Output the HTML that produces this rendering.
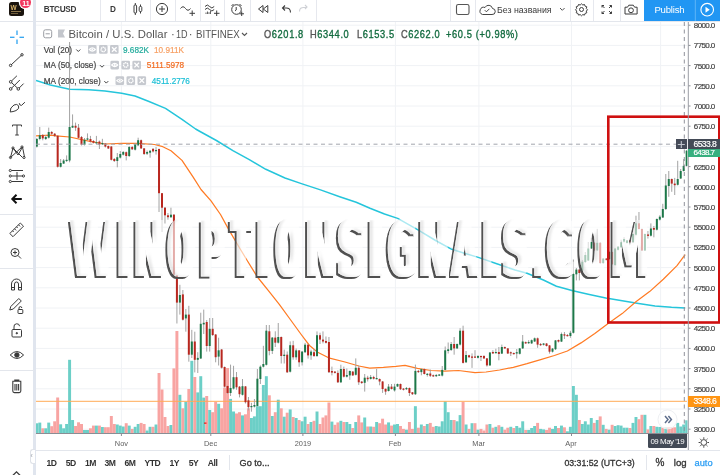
<!DOCTYPE html>
<html><head><meta charset="utf-8">
<style>
*{margin:0;padding:0;box-sizing:border-box}
html,body{width:720px;height:475px;overflow:hidden;background:#fff}
body{position:relative;font-family:"Liberation Sans",Arial,sans-serif;color:#4c4c4c}
.a{position:absolute;white-space:nowrap}
.vs{position:absolute;top:0;width:1px;height:21px;background:#e6e8ee}
.hs{position:absolute;height:1px;background:#e3e6ec}
.tb{font-size:8px;font-weight:bold;color:#3a3a3a}
.lg{font-size:11.3px;color:#555;top:28px;line-height:12px;letter-spacing:-0.35px}
.lv{letter-spacing:0.75px;transform:scaleX(0.82);transform-origin:0 0;-webkit-text-stroke:0.35px currentColor}
.ind{font-size:8.2px;color:#444;line-height:10px;-webkit-text-stroke:0.2px currentColor}
.btn3{position:absolute;width:8.5px;height:8.5px;border:1px solid #c4c7cd;border-radius:1.5px;background:#d6d8dd}
.pl{position:absolute;left:693.8px;font-size:8px;letter-spacing:-0.6px;color:#444;line-height:9px;-webkit-text-stroke:0.2px currentColor}
.tl{position:absolute;top:439.3px;font-size:7.4px;color:#606060;line-height:9px;transform:translateX(-50%)}
.bb{position:absolute;top:458px;font-size:8.6px;color:#333;line-height:10px;font-weight:bold;letter-spacing:-0.5px;transform:translateX(-50%)}
svg{position:absolute;left:0;top:0}
</style></head><body>

<!-- chart svg -->
<svg width="720" height="475" viewBox="0 0 720 475">
<defs>
<clipPath id="cc"><rect x="36" y="22" width="651.5" height="411.5"/></clipPath>
<filter id="wm0" x="-10%" y="-20%" width="120%" height="140%" color-interpolation-filters="sRGB">
  <feMorphology in="SourceAlpha" operator="dilate" radius="1.0 0.3" result="fat"/>
  <feOffset in="fat" dx="-2" dy="1.6" result="off"/>
  <feComposite in="off" in2="fat" operator="out" result="edge"/>
  <feGaussianBlur in="edge" stdDeviation="0.55" result="edgeb"/>
  <feFlood flood-color="#505050"/>
  <feComposite in2="edgeb" operator="in" result="sh"/>
  <feFlood flood-color="#ffffff" flood-opacity="0.62"/>
  <feComposite in2="fat" operator="in" result="fill"/>
  <feOffset in="fat" dx="3" dy="-1" result="off2"/>
  <feComposite in="fat" in2="off2" operator="out" result="inner"/>
  <feGaussianBlur in="inner" stdDeviation="1.2" result="innerb"/>
  <feComposite in="innerb" in2="fat" operator="in" result="innerc"/>
  <feFlood flood-color="#888" flood-opacity="0.22"/>
  <feComposite in2="innerc" operator="in" result="insh"/>
  <feMerge><feMergeNode in="sh"/><feMergeNode in="fill"/><feMergeNode in="insh"/></feMerge>
</filter>
<filter id="wm1" x="-10%" y="-20%" width="120%" height="140%" color-interpolation-filters="sRGB">
  <feMorphology in="SourceAlpha" operator="dilate" radius="1.2 0.3" result="fat"/>
  <feOffset in="fat" dx="-2" dy="1.6" result="off"/>
  <feComposite in="off" in2="fat" operator="out" result="edge"/>
  <feGaussianBlur in="edge" stdDeviation="0.55" result="edgeb"/>
  <feFlood flood-color="#505050"/>
  <feComposite in2="edgeb" operator="in" result="sh"/>
  <feFlood flood-color="#ffffff" flood-opacity="0.62"/>
  <feComposite in2="fat" operator="in" result="fill"/>
  <feOffset in="fat" dx="3" dy="-1" result="off2"/>
  <feComposite in="fat" in2="off2" operator="out" result="inner"/>
  <feGaussianBlur in="inner" stdDeviation="1.2" result="innerb"/>
  <feComposite in="innerb" in2="fat" operator="in" result="innerc"/>
  <feFlood flood-color="#888" flood-opacity="0.22"/>
  <feComposite in2="innerc" operator="in" result="insh"/>
  <feMerge><feMergeNode in="sh"/><feMergeNode in="fill"/><feMergeNode in="insh"/></feMerge>
</filter>
<filter id="wm2" x="-10%" y="-20%" width="120%" height="140%" color-interpolation-filters="sRGB">
  <feMorphology in="SourceAlpha" operator="dilate" radius="1.3 0.3" result="fat"/>
  <feOffset in="fat" dx="-2" dy="1.6" result="off"/>
  <feComposite in="off" in2="fat" operator="out" result="edge"/>
  <feGaussianBlur in="edge" stdDeviation="0.55" result="edgeb"/>
  <feFlood flood-color="#505050"/>
  <feComposite in2="edgeb" operator="in" result="sh"/>
  <feFlood flood-color="#ffffff" flood-opacity="0.62"/>
  <feComposite in2="fat" operator="in" result="fill"/>
  <feOffset in="fat" dx="3" dy="-1" result="off2"/>
  <feComposite in="fat" in2="off2" operator="out" result="inner"/>
  <feGaussianBlur in="inner" stdDeviation="1.2" result="innerb"/>
  <feComposite in="innerb" in2="fat" operator="in" result="innerc"/>
  <feFlood flood-color="#888" flood-opacity="0.22"/>
  <feComposite in2="innerc" operator="in" result="insh"/>
  <feMerge><feMergeNode in="sh"/><feMergeNode in="fill"/><feMergeNode in="insh"/></feMerge>
</filter>
<filter id="wm3" x="-10%" y="-20%" width="120%" height="140%" color-interpolation-filters="sRGB">
  <feMorphology in="SourceAlpha" operator="dilate" radius="1.5 0.3" result="fat"/>
  <feOffset in="fat" dx="-2" dy="1.6" result="off"/>
  <feComposite in="off" in2="fat" operator="out" result="edge"/>
  <feGaussianBlur in="edge" stdDeviation="0.55" result="edgeb"/>
  <feFlood flood-color="#505050"/>
  <feComposite in2="edgeb" operator="in" result="sh"/>
  <feFlood flood-color="#ffffff" flood-opacity="0.62"/>
  <feComposite in2="fat" operator="in" result="fill"/>
  <feOffset in="fat" dx="3" dy="-1" result="off2"/>
  <feComposite in="fat" in2="off2" operator="out" result="inner"/>
  <feGaussianBlur in="inner" stdDeviation="1.2" result="innerb"/>
  <feComposite in="innerb" in2="fat" operator="in" result="innerc"/>
  <feFlood flood-color="#888" flood-opacity="0.22"/>
  <feComposite in2="innerc" operator="in" result="insh"/>
  <feMerge><feMergeNode in="sh"/><feMergeNode in="fill"/><feMergeNode in="insh"/></feMerge>
</filter>
<filter id="wm4" x="-10%" y="-20%" width="120%" height="140%" color-interpolation-filters="sRGB">
  <feMorphology in="SourceAlpha" operator="dilate" radius="1.6 0.3" result="fat"/>
  <feOffset in="fat" dx="-2" dy="1.6" result="off"/>
  <feComposite in="off" in2="fat" operator="out" result="edge"/>
  <feGaussianBlur in="edge" stdDeviation="0.55" result="edgeb"/>
  <feFlood flood-color="#505050"/>
  <feComposite in2="edgeb" operator="in" result="sh"/>
  <feFlood flood-color="#ffffff" flood-opacity="0.62"/>
  <feComposite in2="fat" operator="in" result="fill"/>
  <feOffset in="fat" dx="3" dy="-1" result="off2"/>
  <feComposite in="fat" in2="off2" operator="out" result="inner"/>
  <feGaussianBlur in="inner" stdDeviation="1.2" result="innerb"/>
  <feComposite in="innerb" in2="fat" operator="in" result="innerc"/>
  <feFlood flood-color="#888" flood-opacity="0.22"/>
  <feComposite in2="innerc" operator="in" result="insh"/>
  <feMerge><feMergeNode in="sh"/><feMergeNode in="fill"/><feMergeNode in="insh"/></feMerge>
</filter>
<filter id="wm5" x="-10%" y="-20%" width="120%" height="140%" color-interpolation-filters="sRGB">
  <feMorphology in="SourceAlpha" operator="dilate" radius="1.8 0.3" result="fat"/>
  <feOffset in="fat" dx="-2" dy="1.6" result="off"/>
  <feComposite in="off" in2="fat" operator="out" result="edge"/>
  <feGaussianBlur in="edge" stdDeviation="0.55" result="edgeb"/>
  <feFlood flood-color="#505050"/>
  <feComposite in2="edgeb" operator="in" result="sh"/>
  <feFlood flood-color="#ffffff" flood-opacity="0.62"/>
  <feComposite in2="fat" operator="in" result="fill"/>
  <feOffset in="fat" dx="3" dy="-1" result="off2"/>
  <feComposite in="fat" in2="off2" operator="out" result="inner"/>
  <feGaussianBlur in="inner" stdDeviation="1.2" result="innerb"/>
  <feComposite in="innerb" in2="fat" operator="in" result="innerc"/>
  <feFlood flood-color="#888" flood-opacity="0.22"/>
  <feComposite in2="innerc" operator="in" result="insh"/>
  <feMerge><feMergeNode in="sh"/><feMergeNode in="fill"/><feMergeNode in="insh"/></feMerge>
</filter>
<filter id="wm6" x="-10%" y="-20%" width="120%" height="140%" color-interpolation-filters="sRGB">
  <feMorphology in="SourceAlpha" operator="dilate" radius="2.0 0.3" result="fat"/>
  <feOffset in="fat" dx="-2" dy="1.6" result="off"/>
  <feComposite in="off" in2="fat" operator="out" result="edge"/>
  <feGaussianBlur in="edge" stdDeviation="0.55" result="edgeb"/>
  <feFlood flood-color="#505050"/>
  <feComposite in2="edgeb" operator="in" result="sh"/>
  <feFlood flood-color="#ffffff" flood-opacity="0.62"/>
  <feComposite in2="fat" operator="in" result="fill"/>
  <feOffset in="fat" dx="3" dy="-1" result="off2"/>
  <feComposite in="fat" in2="off2" operator="out" result="inner"/>
  <feGaussianBlur in="inner" stdDeviation="1.2" result="innerb"/>
  <feComposite in="innerb" in2="fat" operator="in" result="innerc"/>
  <feFlood flood-color="#888" flood-opacity="0.22"/>
  <feComposite in2="innerc" operator="in" result="insh"/>
  <feMerge><feMergeNode in="sh"/><feMergeNode in="fill"/><feMergeNode in="insh"/></feMerge>
</filter>
<filter id="wm7" x="-10%" y="-20%" width="120%" height="140%" color-interpolation-filters="sRGB">
  <feMorphology in="SourceAlpha" operator="dilate" radius="2.2 0.3" result="fat"/>
  <feOffset in="fat" dx="-2" dy="1.6" result="off"/>
  <feComposite in="off" in2="fat" operator="out" result="edge"/>
  <feGaussianBlur in="edge" stdDeviation="0.55" result="edgeb"/>
  <feFlood flood-color="#505050"/>
  <feComposite in2="edgeb" operator="in" result="sh"/>
  <feFlood flood-color="#ffffff" flood-opacity="0.62"/>
  <feComposite in2="fat" operator="in" result="fill"/>
  <feOffset in="fat" dx="3" dy="-1" result="off2"/>
  <feComposite in="fat" in2="off2" operator="out" result="inner"/>
  <feGaussianBlur in="inner" stdDeviation="1.2" result="innerb"/>
  <feComposite in="innerb" in2="fat" operator="in" result="innerc"/>
  <feFlood flood-color="#888" flood-opacity="0.22"/>
  <feComposite in2="innerc" operator="in" result="insh"/>
  <feMerge><feMergeNode in="sh"/><feMergeNode in="fill"/><feMergeNode in="insh"/></feMerge>
</filter>
<filter id="wm8" x="-10%" y="-20%" width="120%" height="140%" color-interpolation-filters="sRGB">
  <feMorphology in="SourceAlpha" operator="dilate" radius="2.4 0.3" result="fat"/>
  <feOffset in="fat" dx="-2" dy="1.6" result="off"/>
  <feComposite in="off" in2="fat" operator="out" result="edge"/>
  <feGaussianBlur in="edge" stdDeviation="0.55" result="edgeb"/>
  <feFlood flood-color="#505050"/>
  <feComposite in2="edgeb" operator="in" result="sh"/>
  <feFlood flood-color="#ffffff" flood-opacity="0.62"/>
  <feComposite in2="fat" operator="in" result="fill"/>
  <feOffset in="fat" dx="3" dy="-1" result="off2"/>
  <feComposite in="fat" in2="off2" operator="out" result="inner"/>
  <feGaussianBlur in="inner" stdDeviation="1.2" result="innerb"/>
  <feComposite in="innerb" in2="fat" operator="in" result="innerc"/>
  <feFlood flood-color="#888" flood-opacity="0.22"/>
  <feComposite in2="innerc" operator="in" result="insh"/>
  <feMerge><feMergeNode in="sh"/><feMergeNode in="fill"/><feMergeNode in="insh"/></feMerge>
</filter>
<filter id="wm9" x="-10%" y="-20%" width="120%" height="140%" color-interpolation-filters="sRGB">
  <feMorphology in="SourceAlpha" operator="dilate" radius="2.5 0.3" result="fat"/>
  <feOffset in="fat" dx="-2" dy="1.6" result="off"/>
  <feComposite in="off" in2="fat" operator="out" result="edge"/>
  <feGaussianBlur in="edge" stdDeviation="0.55" result="edgeb"/>
  <feFlood flood-color="#505050"/>
  <feComposite in2="edgeb" operator="in" result="sh"/>
  <feFlood flood-color="#ffffff" flood-opacity="0.62"/>
  <feComposite in2="fat" operator="in" result="fill"/>
  <feOffset in="fat" dx="3" dy="-1" result="off2"/>
  <feComposite in="fat" in2="off2" operator="out" result="inner"/>
  <feGaussianBlur in="inner" stdDeviation="1.2" result="innerb"/>
  <feComposite in="innerb" in2="fat" operator="in" result="innerc"/>
  <feFlood flood-color="#888" flood-opacity="0.22"/>
  <feComposite in2="innerc" operator="in" result="insh"/>
  <feMerge><feMergeNode in="sh"/><feMergeNode in="fill"/><feMergeNode in="insh"/></feMerge>
</filter>
<filter id="wm10" x="-10%" y="-20%" width="120%" height="140%" color-interpolation-filters="sRGB">
  <feMorphology in="SourceAlpha" operator="dilate" radius="2.6 0.3" result="fat"/>
  <feOffset in="fat" dx="-2" dy="1.6" result="off"/>
  <feComposite in="off" in2="fat" operator="out" result="edge"/>
  <feGaussianBlur in="edge" stdDeviation="0.55" result="edgeb"/>
  <feFlood flood-color="#505050"/>
  <feComposite in2="edgeb" operator="in" result="sh"/>
  <feFlood flood-color="#ffffff" flood-opacity="0.62"/>
  <feComposite in2="fat" operator="in" result="fill"/>
  <feOffset in="fat" dx="3" dy="-1" result="off2"/>
  <feComposite in="fat" in2="off2" operator="out" result="inner"/>
  <feGaussianBlur in="inner" stdDeviation="1.2" result="innerb"/>
  <feComposite in="innerb" in2="fat" operator="in" result="innerc"/>
  <feFlood flood-color="#888" flood-opacity="0.22"/>
  <feComposite in2="innerc" operator="in" result="insh"/>
  <feMerge><feMergeNode in="sh"/><feMergeNode in="fill"/><feMergeNode in="insh"/></feMerge>
</filter>
</defs>
<g clip-path="url(#cc)">
<line x1="36" y1="25.2" x2="687" y2="25.2" stroke="#f0f2f5" stroke-width="1"/>
<line x1="36" y1="45.4" x2="687" y2="45.4" stroke="#f0f2f5" stroke-width="1"/>
<line x1="36" y1="65.6" x2="687" y2="65.6" stroke="#f0f2f5" stroke-width="1"/>
<line x1="36" y1="85.8" x2="687" y2="85.8" stroke="#f0f2f5" stroke-width="1"/>
<line x1="36" y1="106.0" x2="687" y2="106.0" stroke="#f0f2f5" stroke-width="1"/>
<line x1="36" y1="126.2" x2="687" y2="126.2" stroke="#f0f2f5" stroke-width="1"/>
<line x1="36" y1="146.4" x2="687" y2="146.4" stroke="#f0f2f5" stroke-width="1"/>
<line x1="36" y1="166.6" x2="687" y2="166.6" stroke="#f0f2f5" stroke-width="1"/>
<line x1="36" y1="186.8" x2="687" y2="186.8" stroke="#f0f2f5" stroke-width="1"/>
<line x1="36" y1="207.0" x2="687" y2="207.0" stroke="#f0f2f5" stroke-width="1"/>
<line x1="36" y1="227.2" x2="687" y2="227.2" stroke="#f0f2f5" stroke-width="1"/>
<line x1="36" y1="247.4" x2="687" y2="247.4" stroke="#f0f2f5" stroke-width="1"/>
<line x1="36" y1="267.6" x2="687" y2="267.6" stroke="#f0f2f5" stroke-width="1"/>
<line x1="36" y1="287.8" x2="687" y2="287.8" stroke="#f0f2f5" stroke-width="1"/>
<line x1="36" y1="308.0" x2="687" y2="308.0" stroke="#f0f2f5" stroke-width="1"/>
<line x1="36" y1="328.2" x2="687" y2="328.2" stroke="#f0f2f5" stroke-width="1"/>
<line x1="36" y1="348.4" x2="687" y2="348.4" stroke="#f0f2f5" stroke-width="1"/>
<line x1="36" y1="368.6" x2="687" y2="368.6" stroke="#f0f2f5" stroke-width="1"/>
<line x1="36" y1="388.8" x2="687" y2="388.8" stroke="#f0f2f5" stroke-width="1"/>
<line x1="36" y1="409.0" x2="687" y2="409.0" stroke="#f0f2f5" stroke-width="1"/>
<line x1="36" y1="429.2" x2="687" y2="429.2" stroke="#f0f2f5" stroke-width="1"/>
<line x1="121.4" y1="22" x2="121.4" y2="433" stroke="#f0f2f5" stroke-width="1"/>
<line x1="210.8" y1="22" x2="210.8" y2="433" stroke="#f0f2f5" stroke-width="1"/>
<line x1="302.9" y1="22" x2="302.9" y2="433" stroke="#f0f2f5" stroke-width="1"/>
<line x1="395.4" y1="22" x2="395.4" y2="433" stroke="#f0f2f5" stroke-width="1"/>
<line x1="478.9" y1="22" x2="478.9" y2="433" stroke="#f0f2f5" stroke-width="1"/>
<line x1="571.5" y1="22" x2="571.5" y2="433" stroke="#f0f2f5" stroke-width="1"/>
<line x1="660.6" y1="22" x2="660.6" y2="433" stroke="#f0f2f5" stroke-width="1"/>
<rect x="35.32" y="423.3" width="2.95" height="9.7" fill="#6ccfc7"/>
<rect x="38.31" y="422.6" width="2.95" height="10.4" fill="#6ccfc7"/>
<rect x="41.29" y="428.3" width="2.95" height="4.7" fill="#f8a4a2"/>
<rect x="44.27" y="428.3" width="2.95" height="4.7" fill="#6ccfc7"/>
<rect x="47.25" y="422.6" width="2.95" height="10.4" fill="#6ccfc7"/>
<rect x="50.23" y="426.2" width="2.95" height="6.8" fill="#f8a4a2"/>
<rect x="53.21" y="421.3" width="2.95" height="11.7" fill="#f8a4a2"/>
<rect x="56.19" y="397.5" width="2.95" height="35.5" fill="#f8a4a2"/>
<rect x="59.17" y="424.3" width="2.95" height="8.7" fill="#6ccfc7"/>
<rect x="62.15" y="428.3" width="2.95" height="4.7" fill="#6ccfc7"/>
<rect x="65.14" y="424.0" width="2.95" height="9.0" fill="#6ccfc7"/>
<rect x="68.12" y="359.8" width="2.95" height="73.2" fill="#6ccfc7"/>
<rect x="71.10" y="420.0" width="2.95" height="13.0" fill="#6ccfc7"/>
<rect x="74.08" y="426.0" width="2.95" height="7.0" fill="#f8a4a2"/>
<rect x="77.06" y="422.3" width="2.95" height="10.7" fill="#f8a4a2"/>
<rect x="80.04" y="424.0" width="2.95" height="9.0" fill="#f8a4a2"/>
<rect x="83.02" y="430.0" width="2.95" height="3.0" fill="#6ccfc7"/>
<rect x="86.00" y="430.0" width="2.95" height="3.0" fill="#6ccfc7"/>
<rect x="88.98" y="428.3" width="2.95" height="4.7" fill="#f8a4a2"/>
<rect x="91.96" y="425.6" width="2.95" height="7.4" fill="#f8a4a2"/>
<rect x="94.94" y="425.6" width="2.95" height="7.4" fill="#6ccfc7"/>
<rect x="97.93" y="425.6" width="2.95" height="7.4" fill="#f8a4a2"/>
<rect x="100.91" y="427.0" width="2.95" height="6.0" fill="#6ccfc7"/>
<rect x="103.89" y="427.2" width="2.95" height="5.8" fill="#f8a4a2"/>
<rect x="106.87" y="427.2" width="2.95" height="5.8" fill="#f8a4a2"/>
<rect x="109.85" y="416.0" width="2.95" height="17.0" fill="#f8a4a2"/>
<rect x="112.83" y="424.0" width="2.95" height="9.0" fill="#f8a4a2"/>
<rect x="115.81" y="424.5" width="2.95" height="8.5" fill="#6ccfc7"/>
<rect x="118.79" y="425.6" width="2.95" height="7.4" fill="#6ccfc7"/>
<rect x="121.77" y="426.5" width="2.95" height="6.5" fill="#6ccfc7"/>
<rect x="124.75" y="423.2" width="2.95" height="9.8" fill="#f8a4a2"/>
<rect x="127.74" y="425.6" width="2.95" height="7.4" fill="#6ccfc7"/>
<rect x="130.72" y="428.9" width="2.95" height="4.1" fill="#f8a4a2"/>
<rect x="133.70" y="426.8" width="2.95" height="6.2" fill="#6ccfc7"/>
<rect x="136.68" y="424.0" width="2.95" height="9.0" fill="#6ccfc7"/>
<rect x="139.66" y="422.9" width="2.95" height="10.1" fill="#f8a4a2"/>
<rect x="142.64" y="424.0" width="2.95" height="9.0" fill="#f8a4a2"/>
<rect x="145.62" y="430.5" width="2.95" height="2.5" fill="#6ccfc7"/>
<rect x="148.60" y="426.8" width="2.95" height="6.2" fill="#6ccfc7"/>
<rect x="151.58" y="426.8" width="2.95" height="6.2" fill="#f8a4a2"/>
<rect x="154.56" y="424.5" width="2.95" height="8.5" fill="#6ccfc7"/>
<rect x="157.55" y="373.0" width="2.95" height="60.0" fill="#f8a4a2"/>
<rect x="160.53" y="389.5" width="2.95" height="43.5" fill="#f8a4a2"/>
<rect x="163.51" y="417.0" width="2.95" height="16.0" fill="#f8a4a2"/>
<rect x="166.49" y="426.0" width="2.95" height="7.0" fill="#f8a4a2"/>
<rect x="169.47" y="425.0" width="2.95" height="8.0" fill="#6ccfc7"/>
<rect x="172.45" y="368.4" width="2.95" height="64.6" fill="#f8a4a2"/>
<rect x="175.43" y="331.0" width="2.95" height="102.0" fill="#f8a4a2"/>
<rect x="178.41" y="394.8" width="2.95" height="38.2" fill="#6ccfc7"/>
<rect x="181.39" y="408.3" width="2.95" height="24.7" fill="#f8a4a2"/>
<rect x="184.37" y="401.8" width="2.95" height="31.2" fill="#6ccfc7"/>
<rect x="187.36" y="389.0" width="2.95" height="44.0" fill="#f8a4a2"/>
<rect x="190.34" y="360.8" width="2.95" height="72.2" fill="#6ccfc7"/>
<rect x="193.32" y="377.0" width="2.95" height="56.0" fill="#f8a4a2"/>
<rect x="196.30" y="392.4" width="2.95" height="40.6" fill="#6ccfc7"/>
<rect x="199.28" y="376.2" width="2.95" height="56.8" fill="#6ccfc7"/>
<rect x="202.26" y="397.6" width="2.95" height="35.4" fill="#6ccfc7"/>
<rect x="205.24" y="396.0" width="2.95" height="37.0" fill="#f8a4a2"/>
<rect x="208.22" y="410.0" width="2.95" height="23.0" fill="#6ccfc7"/>
<rect x="211.20" y="412.2" width="2.95" height="20.8" fill="#f8a4a2"/>
<rect x="214.18" y="401.8" width="2.95" height="31.2" fill="#f8a4a2"/>
<rect x="217.17" y="403.8" width="2.95" height="29.2" fill="#6ccfc7"/>
<rect x="220.15" y="408.3" width="2.95" height="24.7" fill="#f8a4a2"/>
<rect x="223.13" y="387.6" width="2.95" height="45.4" fill="#f8a4a2"/>
<rect x="226.11" y="368.0" width="2.95" height="65.0" fill="#f8a4a2"/>
<rect x="229.09" y="398.9" width="2.95" height="34.1" fill="#6ccfc7"/>
<rect x="232.07" y="411.5" width="2.95" height="21.5" fill="#6ccfc7"/>
<rect x="235.05" y="413.5" width="2.95" height="19.5" fill="#f8a4a2"/>
<rect x="238.03" y="412.2" width="2.95" height="20.8" fill="#f8a4a2"/>
<rect x="241.01" y="415.4" width="2.95" height="17.6" fill="#6ccfc7"/>
<rect x="243.99" y="414.3" width="2.95" height="18.7" fill="#f8a4a2"/>
<rect x="246.98" y="408.3" width="2.95" height="24.7" fill="#f8a4a2"/>
<rect x="249.96" y="418.0" width="2.95" height="15.0" fill="#6ccfc7"/>
<rect x="252.94" y="416.4" width="2.95" height="16.6" fill="#6ccfc7"/>
<rect x="255.92" y="406.2" width="2.95" height="26.8" fill="#6ccfc7"/>
<rect x="258.90" y="406.2" width="2.95" height="26.8" fill="#6ccfc7"/>
<rect x="261.88" y="385.0" width="2.95" height="48.0" fill="#6ccfc7"/>
<rect x="264.86" y="376.2" width="2.95" height="56.8" fill="#6ccfc7"/>
<rect x="267.84" y="395.3" width="2.95" height="37.7" fill="#f8a4a2"/>
<rect x="270.82" y="416.0" width="2.95" height="17.0" fill="#6ccfc7"/>
<rect x="273.80" y="412.2" width="2.95" height="20.8" fill="#f8a4a2"/>
<rect x="276.79" y="399.7" width="2.95" height="33.3" fill="#6ccfc7"/>
<rect x="279.77" y="408.3" width="2.95" height="24.7" fill="#f8a4a2"/>
<rect x="282.75" y="416.7" width="2.95" height="16.3" fill="#6ccfc7"/>
<rect x="285.73" y="412.7" width="2.95" height="20.3" fill="#f8a4a2"/>
<rect x="288.71" y="409.4" width="2.95" height="23.6" fill="#6ccfc7"/>
<rect x="291.69" y="417.0" width="2.95" height="16.0" fill="#f8a4a2"/>
<rect x="294.67" y="418.0" width="2.95" height="15.0" fill="#6ccfc7"/>
<rect x="297.65" y="420.0" width="2.95" height="13.0" fill="#f8a4a2"/>
<rect x="300.63" y="421.3" width="2.95" height="11.7" fill="#6ccfc7"/>
<rect x="303.61" y="416.7" width="2.95" height="16.3" fill="#6ccfc7"/>
<rect x="306.60" y="424.0" width="2.95" height="9.0" fill="#f8a4a2"/>
<rect x="309.58" y="422.0" width="2.95" height="11.0" fill="#6ccfc7"/>
<rect x="312.56" y="420.8" width="2.95" height="12.2" fill="#f8a4a2"/>
<rect x="315.54" y="411.5" width="2.95" height="21.5" fill="#6ccfc7"/>
<rect x="318.52" y="424.0" width="2.95" height="9.0" fill="#f8a4a2"/>
<rect x="321.50" y="417.5" width="2.95" height="15.5" fill="#f8a4a2"/>
<rect x="324.48" y="415.4" width="2.95" height="17.6" fill="#f8a4a2"/>
<rect x="327.46" y="402.5" width="2.95" height="30.5" fill="#f8a4a2"/>
<rect x="330.44" y="421.6" width="2.95" height="11.4" fill="#6ccfc7"/>
<rect x="333.42" y="424.8" width="2.95" height="8.2" fill="#f8a4a2"/>
<rect x="336.41" y="422.4" width="2.95" height="10.6" fill="#f8a4a2"/>
<rect x="339.39" y="420.8" width="2.95" height="12.2" fill="#6ccfc7"/>
<rect x="342.37" y="422.0" width="2.95" height="11.0" fill="#f8a4a2"/>
<rect x="345.35" y="422.0" width="2.95" height="11.0" fill="#6ccfc7"/>
<rect x="348.33" y="424.0" width="2.95" height="9.0" fill="#6ccfc7"/>
<rect x="351.31" y="428.0" width="2.95" height="5.0" fill="#f8a4a2"/>
<rect x="354.29" y="422.0" width="2.95" height="11.0" fill="#6ccfc7"/>
<rect x="357.27" y="415.4" width="2.95" height="17.6" fill="#f8a4a2"/>
<rect x="360.25" y="422.4" width="2.95" height="10.6" fill="#f8a4a2"/>
<rect x="363.23" y="417.5" width="2.95" height="15.5" fill="#6ccfc7"/>
<rect x="366.22" y="426.5" width="2.95" height="6.5" fill="#f8a4a2"/>
<rect x="369.20" y="426.5" width="2.95" height="6.5" fill="#6ccfc7"/>
<rect x="372.18" y="426.8" width="2.95" height="6.2" fill="#f8a4a2"/>
<rect x="375.16" y="422.0" width="2.95" height="11.0" fill="#6ccfc7"/>
<rect x="378.14" y="423.2" width="2.95" height="9.8" fill="#f8a4a2"/>
<rect x="381.12" y="418.7" width="2.95" height="14.3" fill="#f8a4a2"/>
<rect x="384.10" y="424.5" width="2.95" height="8.5" fill="#f8a4a2"/>
<rect x="387.08" y="422.4" width="2.95" height="10.6" fill="#6ccfc7"/>
<rect x="390.06" y="425.6" width="2.95" height="7.4" fill="#f8a4a2"/>
<rect x="393.04" y="424.5" width="2.95" height="8.5" fill="#6ccfc7"/>
<rect x="396.03" y="424.0" width="2.95" height="9.0" fill="#6ccfc7"/>
<rect x="399.01" y="426.0" width="2.95" height="7.0" fill="#f8a4a2"/>
<rect x="401.99" y="428.9" width="2.95" height="4.1" fill="#f8a4a2"/>
<rect x="404.97" y="429.7" width="2.95" height="3.3" fill="#6ccfc7"/>
<rect x="407.95" y="422.0" width="2.95" height="11.0" fill="#f8a4a2"/>
<rect x="410.93" y="428.9" width="2.95" height="4.1" fill="#f8a4a2"/>
<rect x="413.91" y="406.2" width="2.95" height="26.8" fill="#6ccfc7"/>
<rect x="416.89" y="427.7" width="2.95" height="5.3" fill="#f8a4a2"/>
<rect x="419.87" y="424.5" width="2.95" height="8.5" fill="#6ccfc7"/>
<rect x="422.85" y="426.0" width="2.95" height="7.0" fill="#f8a4a2"/>
<rect x="425.84" y="424.0" width="2.95" height="9.0" fill="#6ccfc7"/>
<rect x="428.82" y="422.9" width="2.95" height="10.1" fill="#f8a4a2"/>
<rect x="431.80" y="426.8" width="2.95" height="6.2" fill="#f8a4a2"/>
<rect x="434.78" y="426.0" width="2.95" height="7.0" fill="#6ccfc7"/>
<rect x="437.76" y="426.5" width="2.95" height="6.5" fill="#6ccfc7"/>
<rect x="440.74" y="421.3" width="2.95" height="11.7" fill="#6ccfc7"/>
<rect x="443.72" y="401.3" width="2.95" height="31.7" fill="#6ccfc7"/>
<rect x="446.70" y="412.2" width="2.95" height="20.8" fill="#6ccfc7"/>
<rect x="449.68" y="420.0" width="2.95" height="13.0" fill="#6ccfc7"/>
<rect x="452.66" y="420.0" width="2.95" height="13.0" fill="#f8a4a2"/>
<rect x="455.65" y="421.3" width="2.95" height="11.7" fill="#6ccfc7"/>
<rect x="458.63" y="415.1" width="2.95" height="17.9" fill="#6ccfc7"/>
<rect x="461.61" y="401.8" width="2.95" height="31.2" fill="#f8a4a2"/>
<rect x="464.59" y="424.5" width="2.95" height="8.5" fill="#6ccfc7"/>
<rect x="467.57" y="428.9" width="2.95" height="4.1" fill="#f8a4a2"/>
<rect x="470.55" y="423.2" width="2.95" height="9.8" fill="#6ccfc7"/>
<rect x="473.53" y="423.2" width="2.95" height="9.8" fill="#f8a4a2"/>
<rect x="476.51" y="429.7" width="2.95" height="3.3" fill="#6ccfc7"/>
<rect x="479.49" y="428.9" width="2.95" height="4.1" fill="#f8a4a2"/>
<rect x="482.47" y="430.5" width="2.95" height="2.5" fill="#f8a4a2"/>
<rect x="485.46" y="424.5" width="2.95" height="8.5" fill="#f8a4a2"/>
<rect x="488.44" y="424.0" width="2.95" height="9.0" fill="#6ccfc7"/>
<rect x="491.42" y="427.7" width="2.95" height="5.3" fill="#f8a4a2"/>
<rect x="494.40" y="426.8" width="2.95" height="6.2" fill="#6ccfc7"/>
<rect x="497.38" y="425.2" width="2.95" height="7.8" fill="#f8a4a2"/>
<rect x="500.36" y="426.8" width="2.95" height="6.2" fill="#6ccfc7"/>
<rect x="503.34" y="429.7" width="2.95" height="3.3" fill="#f8a4a2"/>
<rect x="506.32" y="427.7" width="2.95" height="5.3" fill="#f8a4a2"/>
<rect x="509.30" y="426.8" width="2.95" height="6.2" fill="#6ccfc7"/>
<rect x="512.28" y="428.0" width="2.95" height="5.0" fill="#f8a4a2"/>
<rect x="515.27" y="426.0" width="2.95" height="7.0" fill="#6ccfc7"/>
<rect x="518.25" y="427.7" width="2.95" height="5.3" fill="#6ccfc7"/>
<rect x="521.23" y="421.3" width="2.95" height="11.7" fill="#6ccfc7"/>
<rect x="524.21" y="430.0" width="2.95" height="3.0" fill="#f8a4a2"/>
<rect x="527.19" y="430.0" width="2.95" height="3.0" fill="#6ccfc7"/>
<rect x="530.17" y="428.0" width="2.95" height="5.0" fill="#6ccfc7"/>
<rect x="533.15" y="426.0" width="2.95" height="7.0" fill="#6ccfc7"/>
<rect x="536.13" y="422.9" width="2.95" height="10.1" fill="#f8a4a2"/>
<rect x="539.11" y="428.9" width="2.95" height="4.1" fill="#6ccfc7"/>
<rect x="542.09" y="429.4" width="2.95" height="3.6" fill="#6ccfc7"/>
<rect x="545.08" y="430.0" width="2.95" height="3.0" fill="#f8a4a2"/>
<rect x="548.06" y="427.7" width="2.95" height="5.3" fill="#f8a4a2"/>
<rect x="551.04" y="428.9" width="2.95" height="4.1" fill="#6ccfc7"/>
<rect x="554.02" y="426.0" width="2.95" height="7.0" fill="#6ccfc7"/>
<rect x="557.00" y="428.0" width="2.95" height="5.0" fill="#f8a4a2"/>
<rect x="559.98" y="425.6" width="2.95" height="7.4" fill="#6ccfc7"/>
<rect x="562.96" y="427.3" width="2.95" height="5.7" fill="#f8a4a2"/>
<rect x="565.94" y="431.3" width="2.95" height="1.7" fill="#6ccfc7"/>
<rect x="568.92" y="426.8" width="2.95" height="6.2" fill="#6ccfc7"/>
<rect x="571.90" y="386.0" width="2.95" height="47.0" fill="#6ccfc7"/>
<rect x="574.89" y="394.8" width="2.95" height="38.2" fill="#6ccfc7"/>
<rect x="577.87" y="420.0" width="2.95" height="13.0" fill="#f8a4a2"/>
<rect x="580.85" y="424.0" width="2.95" height="9.0" fill="#6ccfc7"/>
<rect x="583.83" y="421.3" width="2.95" height="11.7" fill="#6ccfc7"/>
<rect x="586.81" y="424.5" width="2.95" height="8.5" fill="#6ccfc7"/>
<rect x="589.79" y="418.0" width="2.95" height="15.0" fill="#6ccfc7"/>
<rect x="592.77" y="422.9" width="2.95" height="10.1" fill="#f8a4a2"/>
<rect x="595.75" y="420.0" width="2.95" height="13.0" fill="#6ccfc7"/>
<rect x="598.73" y="416.4" width="2.95" height="16.6" fill="#f8a4a2"/>
<rect x="601.71" y="424.8" width="2.95" height="8.2" fill="#6ccfc7"/>
<rect x="604.70" y="428.9" width="2.95" height="4.1" fill="#f8a4a2"/>
<rect x="607.68" y="429.7" width="2.95" height="3.3" fill="#6ccfc7"/>
<rect x="610.66" y="424.8" width="2.95" height="8.2" fill="#f8a4a2"/>
<rect x="613.64" y="426.0" width="2.95" height="7.0" fill="#6ccfc7"/>
<rect x="616.62" y="425.2" width="2.95" height="7.8" fill="#6ccfc7"/>
<rect x="619.60" y="425.6" width="2.95" height="7.4" fill="#6ccfc7"/>
<rect x="622.58" y="427.7" width="2.95" height="5.3" fill="#6ccfc7"/>
<rect x="625.56" y="427.7" width="2.95" height="5.3" fill="#6ccfc7"/>
<rect x="628.54" y="428.0" width="2.95" height="5.0" fill="#f8a4a2"/>
<rect x="631.52" y="422.9" width="2.95" height="10.1" fill="#6ccfc7"/>
<rect x="634.51" y="417.0" width="2.95" height="16.0" fill="#6ccfc7"/>
<rect x="637.49" y="419.2" width="2.95" height="13.8" fill="#f8a4a2"/>
<rect x="640.47" y="414.8" width="2.95" height="18.2" fill="#f8a4a2"/>
<rect x="643.45" y="414.8" width="2.95" height="18.2" fill="#6ccfc7"/>
<rect x="646.43" y="429.4" width="2.95" height="3.6" fill="#f8a4a2"/>
<rect x="649.41" y="426.0" width="2.95" height="7.0" fill="#6ccfc7"/>
<rect x="652.39" y="426.0" width="2.95" height="7.0" fill="#f8a4a2"/>
<rect x="655.37" y="426.8" width="2.95" height="6.2" fill="#6ccfc7"/>
<rect x="658.35" y="427.0" width="2.95" height="6.0" fill="#6ccfc7"/>
<rect x="661.33" y="427.5" width="2.95" height="5.5" fill="#f8a4a2"/>
<rect x="664.32" y="427.5" width="2.95" height="5.5" fill="#6ccfc7"/>
<rect x="667.30" y="427.3" width="2.95" height="5.7" fill="#f8a4a2"/>
<rect x="670.28" y="427.3" width="2.95" height="5.7" fill="#f8a4a2"/>
<rect x="673.26" y="427.3" width="2.95" height="5.7" fill="#f8a4a2"/>
<rect x="676.24" y="422.9" width="2.95" height="10.1" fill="#6ccfc7"/>
<rect x="679.22" y="426.5" width="2.95" height="6.5" fill="#6ccfc7"/>
<rect x="682.20" y="424.5" width="2.95" height="8.5" fill="#6ccfc7"/>
<rect x="685.18" y="420.3" width="2.95" height="12.7" fill="#6ccfc7"/>
<line x1="36" y1="401.3" x2="687" y2="401.3" stroke="#ffab55" stroke-width="1"/>
<rect x="204" y="422.5" width="2.5" height="1.3" fill="#e8231f"/>
<polyline points="36.0,80.5 50.4,85.0 69.6,89.2 88.8,89.7 105.0,91.0 121.7,93.3 135.0,96.0 149.0,101.5 165.5,108.4 182.0,119.3 195.6,129.0 200.0,131.5 216.4,140.5 232.9,150.7 249.3,159.7 265.8,169.3 285.0,178.0 301.4,183.6 320.5,189.9 339.7,196.7 356.2,202.2 370.0,208.2 384.5,214.0 397.7,218.4 418.4,230.2 435.6,240.5 451.8,249.3 463.6,253.0 478.3,257.4 497.5,264.0 515.0,270.0 527.0,273.3 543.4,280.0 556.4,286.2 572.9,290.8 589.3,294.4 605.8,298.0 622.2,300.7 638.6,303.4 655.0,305.9 671.5,307.3 685.2,308.0" fill="none" stroke="#25c5db" stroke-width="1.5" stroke-linejoin="round"/>
<polyline points="36.0,135.8 50.4,135.2 56.0,135.8 69.6,137.0 88.8,141.2 105.0,144.0 121.7,143.4 138.0,143.4 154.5,144.5 162.8,146.7 171.0,150.8 182.0,160.4 193.0,176.8 201.0,189.5 211.0,200.8 220.5,214.5 228.8,229.6 238.4,246.0 246.4,259.2 257.4,277.0 268.4,290.7 279.3,304.4 290.3,319.5 301.2,334.5 309.5,345.5 317.7,352.3 328.6,357.8 345.0,362.0 358.8,366.0 369.7,368.2 383.4,367.4 396.0,366.3 405.0,365.3 417.4,368.4 431.0,370.5 444.8,371.1 458.5,370.5 475.0,372.7 486.0,372.0 499.6,370.0 513.3,367.3 527.0,363.7 540.7,359.6 554.4,355.5 567.4,351.0 581.0,342.9 594.8,333.6 608.5,323.2 622.2,313.6 635.9,301.8 649.6,291.6 663.3,279.3 677.0,265.6 685.2,254.7" fill="none" stroke="#ff7b24" stroke-width="1.25" stroke-linejoin="round"/>
<line x1="36.80" y1="138.0" x2="36.80" y2="147.5" stroke="#a3a3a3" stroke-width="1"/>
<rect x="35.80" y="139.0" width="2" height="7.6" fill="#1c7849"/>
<line x1="39.78" y1="127.0" x2="39.78" y2="140.3" stroke="#a3a3a3" stroke-width="1"/>
<rect x="38.78" y="135.2" width="2" height="3.8" fill="#1c7849"/>
<line x1="42.76" y1="134.0" x2="42.76" y2="140.3" stroke="#a3a3a3" stroke-width="1"/>
<rect x="41.76" y="135.2" width="2" height="3.2" fill="#b9271f"/>
<line x1="45.74" y1="135.0" x2="45.74" y2="140.0" stroke="#a3a3a3" stroke-width="1"/>
<rect x="44.74" y="137.0" width="2" height="2.0" fill="#1c7849"/>
<line x1="48.72" y1="127.6" x2="48.72" y2="138.5" stroke="#a3a3a3" stroke-width="1"/>
<rect x="47.72" y="132.0" width="2" height="5.7" fill="#1c7849"/>
<line x1="51.70" y1="131.0" x2="51.70" y2="135.0" stroke="#a3a3a3" stroke-width="1"/>
<rect x="50.70" y="132.0" width="2" height="1.7" fill="#b9271f"/>
<line x1="54.69" y1="133.0" x2="54.69" y2="137.0" stroke="#a3a3a3" stroke-width="1"/>
<rect x="53.69" y="133.7" width="2" height="2.1" fill="#b9271f"/>
<line x1="57.67" y1="135.0" x2="57.67" y2="167.5" stroke="#a3a3a3" stroke-width="1"/>
<rect x="56.67" y="135.8" width="2" height="31.0" fill="#b9271f"/>
<line x1="60.65" y1="159.0" x2="60.65" y2="167.5" stroke="#a3a3a3" stroke-width="1"/>
<rect x="59.65" y="163.0" width="2" height="3.8" fill="#1c7849"/>
<line x1="63.63" y1="159.0" x2="63.63" y2="164.0" stroke="#a3a3a3" stroke-width="1"/>
<rect x="62.63" y="160.5" width="2" height="3.1" fill="#1c7849"/>
<line x1="66.61" y1="155.4" x2="66.61" y2="162.0" stroke="#a3a3a3" stroke-width="1"/>
<rect x="65.61" y="159.8" width="2" height="1.2" fill="#1c7849"/>
<line x1="69.59" y1="42.0" x2="69.59" y2="162.3" stroke="#a3a3a3" stroke-width="1"/>
<rect x="68.59" y="127.0" width="2" height="33.5" fill="#1c7849"/>
<line x1="72.57" y1="114.4" x2="72.57" y2="128.0" stroke="#a3a3a3" stroke-width="1"/>
<rect x="71.57" y="125.8" width="2" height="1.8" fill="#1c7849"/>
<line x1="75.55" y1="122.6" x2="75.55" y2="130.8" stroke="#a3a3a3" stroke-width="1"/>
<rect x="74.55" y="125.8" width="2" height="1.9" fill="#b9271f"/>
<line x1="78.53" y1="124.0" x2="78.53" y2="138.5" stroke="#a3a3a3" stroke-width="1"/>
<rect x="77.53" y="127.7" width="2" height="10.1" fill="#b9271f"/>
<line x1="81.51" y1="136.0" x2="81.51" y2="145.5" stroke="#a3a3a3" stroke-width="1"/>
<rect x="80.51" y="137.0" width="2" height="7.7" fill="#b9271f"/>
<line x1="84.50" y1="138.0" x2="84.50" y2="145.5" stroke="#a3a3a3" stroke-width="1"/>
<rect x="83.50" y="139.7" width="2" height="5.0" fill="#1c7849"/>
<line x1="87.48" y1="133.4" x2="87.48" y2="140.5" stroke="#a3a3a3" stroke-width="1"/>
<rect x="86.48" y="138.4" width="2" height="1.3" fill="#1c7849"/>
<line x1="90.46" y1="135.9" x2="90.46" y2="142.5" stroke="#a3a3a3" stroke-width="1"/>
<rect x="89.46" y="139.0" width="2" height="2.6" fill="#b9271f"/>
<line x1="93.44" y1="140.0" x2="93.44" y2="143.5" stroke="#a3a3a3" stroke-width="1"/>
<rect x="92.44" y="141.0" width="2" height="1.8" fill="#b9271f"/>
<line x1="96.42" y1="135.9" x2="96.42" y2="144.0" stroke="#a3a3a3" stroke-width="1"/>
<rect x="95.42" y="142.2" width="2" height="1.2" fill="#1c7849"/>
<line x1="99.40" y1="140.5" x2="99.40" y2="149.0" stroke="#a3a3a3" stroke-width="1"/>
<rect x="98.40" y="141.6" width="2" height="3.1" fill="#b9271f"/>
<line x1="102.38" y1="138.8" x2="102.38" y2="145.0" stroke="#a3a3a3" stroke-width="1"/>
<rect x="101.38" y="143.0" width="2" height="1.3" fill="#1c7849"/>
<line x1="105.36" y1="143.0" x2="105.36" y2="147.5" stroke="#a3a3a3" stroke-width="1"/>
<rect x="104.36" y="143.5" width="2" height="3.1" fill="#b9271f"/>
<line x1="108.34" y1="145.5" x2="108.34" y2="149.0" stroke="#a3a3a3" stroke-width="1"/>
<rect x="107.34" y="146.0" width="2" height="2.5" fill="#b9271f"/>
<line x1="111.32" y1="146.0" x2="111.32" y2="160.5" stroke="#a3a3a3" stroke-width="1"/>
<rect x="110.32" y="146.5" width="2" height="13.3" fill="#b9271f"/>
<line x1="114.31" y1="158.0" x2="114.31" y2="162.0" stroke="#a3a3a3" stroke-width="1"/>
<rect x="113.31" y="159.0" width="2" height="2.0" fill="#b9271f"/>
<line x1="117.29" y1="153.0" x2="117.29" y2="167.3" stroke="#a3a3a3" stroke-width="1"/>
<rect x="116.29" y="157.2" width="2" height="3.8" fill="#1c7849"/>
<line x1="120.27" y1="151.0" x2="120.27" y2="158.5" stroke="#a3a3a3" stroke-width="1"/>
<rect x="119.27" y="154.0" width="2" height="3.6" fill="#1c7849"/>
<line x1="123.25" y1="151.0" x2="123.25" y2="155.5" stroke="#a3a3a3" stroke-width="1"/>
<rect x="122.25" y="152.0" width="2" height="2.7" fill="#1c7849"/>
<line x1="126.23" y1="151.5" x2="126.23" y2="160.4" stroke="#a3a3a3" stroke-width="1"/>
<rect x="125.23" y="152.2" width="2" height="3.8" fill="#b9271f"/>
<line x1="129.21" y1="146.0" x2="129.21" y2="157.0" stroke="#a3a3a3" stroke-width="1"/>
<rect x="128.21" y="147.0" width="2" height="9.0" fill="#1c7849"/>
<line x1="132.19" y1="146.0" x2="132.19" y2="150.0" stroke="#a3a3a3" stroke-width="1"/>
<rect x="131.19" y="147.0" width="2" height="2.3" fill="#b9271f"/>
<line x1="135.17" y1="143.5" x2="135.17" y2="150.5" stroke="#a3a3a3" stroke-width="1"/>
<rect x="134.17" y="144.2" width="2" height="5.5" fill="#1c7849"/>
<line x1="138.15" y1="137.7" x2="138.15" y2="146.0" stroke="#a3a3a3" stroke-width="1"/>
<rect x="137.15" y="140.2" width="2" height="5.1" fill="#1c7849"/>
<line x1="141.13" y1="139.5" x2="141.13" y2="149.0" stroke="#a3a3a3" stroke-width="1"/>
<rect x="140.13" y="140.2" width="2" height="8.2" fill="#b9271f"/>
<line x1="144.12" y1="148.0" x2="144.12" y2="155.0" stroke="#a3a3a3" stroke-width="1"/>
<rect x="143.12" y="148.4" width="2" height="5.6" fill="#b9271f"/>
<line x1="147.10" y1="150.5" x2="147.10" y2="155.0" stroke="#a3a3a3" stroke-width="1"/>
<rect x="146.10" y="152.0" width="2" height="1.7" fill="#1c7849"/>
<line x1="150.08" y1="150.0" x2="150.08" y2="157.7" stroke="#a3a3a3" stroke-width="1"/>
<rect x="149.08" y="150.8" width="2" height="1.9" fill="#1c7849"/>
<line x1="153.06" y1="148.0" x2="153.06" y2="152.5" stroke="#a3a3a3" stroke-width="1"/>
<rect x="152.06" y="148.9" width="2" height="2.5" fill="#b9271f"/>
<line x1="156.04" y1="147.0" x2="156.04" y2="154.6" stroke="#a3a3a3" stroke-width="1"/>
<rect x="155.04" y="150.0" width="2" height="1.2" fill="#1c7849"/>
<line x1="159.02" y1="148.5" x2="159.02" y2="212.0" stroke="#a3a3a3" stroke-width="1"/>
<rect x="158.02" y="149.0" width="2" height="44.2" fill="#b9271f"/>
<line x1="162.00" y1="193.0" x2="162.00" y2="232.0" stroke="#a3a3a3" stroke-width="1"/>
<rect x="161.00" y="193.2" width="2" height="14.5" fill="#b9271f"/>
<line x1="164.98" y1="207.0" x2="164.98" y2="223.5" stroke="#a3a3a3" stroke-width="1"/>
<rect x="163.98" y="207.7" width="2" height="7.6" fill="#b9271f"/>
<line x1="167.96" y1="213.0" x2="167.96" y2="219.7" stroke="#a3a3a3" stroke-width="1"/>
<rect x="166.96" y="215.3" width="2" height="1.9" fill="#b9271f"/>
<line x1="170.94" y1="207.7" x2="170.94" y2="218.0" stroke="#a3a3a3" stroke-width="1"/>
<rect x="169.94" y="214.7" width="2" height="2.5" fill="#1c7849"/>
<line x1="173.93" y1="214.0" x2="173.93" y2="275.0" stroke="#a3a3a3" stroke-width="1"/>
<rect x="172.93" y="214.7" width="2" height="60.0" fill="#b9271f"/>
<line x1="176.91" y1="275.0" x2="176.91" y2="323.5" stroke="#a3a3a3" stroke-width="1"/>
<rect x="175.91" y="275.5" width="2" height="27.1" fill="#b9271f"/>
<line x1="179.89" y1="284.8" x2="179.89" y2="314.6" stroke="#a3a3a3" stroke-width="1"/>
<rect x="178.89" y="295.0" width="2" height="7.6" fill="#1c7849"/>
<line x1="182.87" y1="290.0" x2="182.87" y2="320.5" stroke="#a3a3a3" stroke-width="1"/>
<rect x="181.87" y="294.4" width="2" height="25.3" fill="#b9271f"/>
<line x1="185.85" y1="309.0" x2="185.85" y2="331.7" stroke="#a3a3a3" stroke-width="1"/>
<rect x="184.85" y="314.6" width="2" height="3.8" fill="#1c7849"/>
<line x1="188.83" y1="305.8" x2="188.83" y2="361.7" stroke="#a3a3a3" stroke-width="1"/>
<rect x="187.83" y="314.6" width="2" height="40.1" fill="#b9271f"/>
<line x1="191.81" y1="329.8" x2="191.81" y2="358.0" stroke="#a3a3a3" stroke-width="1"/>
<rect x="190.81" y="341.5" width="2" height="13.2" fill="#1c7849"/>
<line x1="194.79" y1="331.7" x2="194.79" y2="372.4" stroke="#a3a3a3" stroke-width="1"/>
<rect x="193.79" y="341.5" width="2" height="18.3" fill="#b9271f"/>
<line x1="197.77" y1="352.2" x2="197.77" y2="373.0" stroke="#a3a3a3" stroke-width="1"/>
<rect x="196.77" y="357.9" width="2" height="1.9" fill="#1c7849"/>
<line x1="200.75" y1="312.7" x2="200.75" y2="359.0" stroke="#a3a3a3" stroke-width="1"/>
<rect x="199.75" y="323.8" width="2" height="34.7" fill="#1c7849"/>
<line x1="203.74" y1="309.6" x2="203.74" y2="334.0" stroke="#a3a3a3" stroke-width="1"/>
<rect x="202.74" y="322.8" width="2" height="1.6" fill="#1c7849"/>
<line x1="206.72" y1="320.0" x2="206.72" y2="351.6" stroke="#a3a3a3" stroke-width="1"/>
<rect x="205.72" y="322.0" width="2" height="24.0" fill="#b9271f"/>
<line x1="209.70" y1="318.0" x2="209.70" y2="351.6" stroke="#a3a3a3" stroke-width="1"/>
<rect x="208.70" y="328.8" width="2" height="17.2" fill="#1c7849"/>
<line x1="212.68" y1="318.0" x2="212.68" y2="336.0" stroke="#a3a3a3" stroke-width="1"/>
<rect x="211.68" y="328.8" width="2" height="6.2" fill="#b9271f"/>
<line x1="215.66" y1="334.0" x2="215.66" y2="362.3" stroke="#a3a3a3" stroke-width="1"/>
<rect x="214.66" y="334.5" width="2" height="22.7" fill="#b9271f"/>
<line x1="218.64" y1="337.7" x2="218.64" y2="365.5" stroke="#a3a3a3" stroke-width="1"/>
<rect x="217.64" y="350.3" width="2" height="6.3" fill="#1c7849"/>
<line x1="221.62" y1="349.0" x2="221.62" y2="368.5" stroke="#a3a3a3" stroke-width="1"/>
<rect x="220.62" y="349.5" width="2" height="18.2" fill="#b9271f"/>
<line x1="224.60" y1="366.5" x2="224.60" y2="387.5" stroke="#a3a3a3" stroke-width="1"/>
<rect x="223.60" y="367.0" width="2" height="19.7" fill="#b9271f"/>
<line x1="227.58" y1="385.5" x2="227.58" y2="394.0" stroke="#a3a3a3" stroke-width="1"/>
<rect x="226.58" y="386.0" width="2" height="7.0" fill="#b9271f"/>
<line x1="230.56" y1="364.6" x2="230.56" y2="396.0" stroke="#a3a3a3" stroke-width="1"/>
<rect x="229.56" y="388.0" width="2" height="5.0" fill="#1c7849"/>
<line x1="233.55" y1="365.8" x2="233.55" y2="389.5" stroke="#a3a3a3" stroke-width="1"/>
<rect x="232.55" y="377.2" width="2" height="11.4" fill="#1c7849"/>
<line x1="236.53" y1="372.0" x2="236.53" y2="389.8" stroke="#a3a3a3" stroke-width="1"/>
<rect x="235.53" y="377.2" width="2" height="10.1" fill="#b9271f"/>
<line x1="239.51" y1="386.0" x2="239.51" y2="397.4" stroke="#a3a3a3" stroke-width="1"/>
<rect x="238.51" y="386.7" width="2" height="7.5" fill="#b9271f"/>
<line x1="242.49" y1="379.0" x2="242.49" y2="395.5" stroke="#a3a3a3" stroke-width="1"/>
<rect x="241.49" y="386.2" width="2" height="8.6" fill="#1c7849"/>
<line x1="245.47" y1="386.0" x2="245.47" y2="403.5" stroke="#a3a3a3" stroke-width="1"/>
<rect x="244.47" y="386.4" width="2" height="15.8" fill="#b9271f"/>
<line x1="248.45" y1="397.0" x2="248.45" y2="410.4" stroke="#a3a3a3" stroke-width="1"/>
<rect x="247.45" y="400.3" width="2" height="6.9" fill="#b9271f"/>
<line x1="251.43" y1="402.8" x2="251.43" y2="411.7" stroke="#a3a3a3" stroke-width="1"/>
<rect x="250.43" y="406.0" width="2" height="1.2" fill="#1c7849"/>
<line x1="254.41" y1="399.0" x2="254.41" y2="407.5" stroke="#a3a3a3" stroke-width="1"/>
<rect x="253.41" y="405.0" width="2" height="1.6" fill="#1c7849"/>
<line x1="257.39" y1="369.0" x2="257.39" y2="406.5" stroke="#a3a3a3" stroke-width="1"/>
<rect x="256.39" y="378.7" width="2" height="27.3" fill="#1c7849"/>
<line x1="260.38" y1="365.4" x2="260.38" y2="384.0" stroke="#a3a3a3" stroke-width="1"/>
<rect x="259.38" y="366.7" width="2" height="12.3" fill="#1c7849"/>
<line x1="263.36" y1="345.8" x2="263.36" y2="367.5" stroke="#a3a3a3" stroke-width="1"/>
<rect x="262.36" y="364.0" width="2" height="2.7" fill="#1c7849"/>
<line x1="266.34" y1="325.0" x2="266.34" y2="365.5" stroke="#a3a3a3" stroke-width="1"/>
<rect x="265.34" y="330.7" width="2" height="34.1" fill="#1c7849"/>
<line x1="269.32" y1="325.0" x2="269.32" y2="355.3" stroke="#a3a3a3" stroke-width="1"/>
<rect x="268.32" y="331.3" width="2" height="19.6" fill="#b9271f"/>
<line x1="272.30" y1="337.0" x2="272.30" y2="354.0" stroke="#a3a3a3" stroke-width="1"/>
<rect x="271.30" y="337.6" width="2" height="13.3" fill="#1c7849"/>
<line x1="275.28" y1="331.3" x2="275.28" y2="347.0" stroke="#a3a3a3" stroke-width="1"/>
<rect x="274.28" y="337.6" width="2" height="5.1" fill="#b9271f"/>
<line x1="278.26" y1="323.0" x2="278.26" y2="343.5" stroke="#a3a3a3" stroke-width="1"/>
<rect x="277.26" y="337.0" width="2" height="5.7" fill="#1c7849"/>
<line x1="281.24" y1="336.5" x2="281.24" y2="363.5" stroke="#a3a3a3" stroke-width="1"/>
<rect x="280.24" y="337.0" width="2" height="19.0" fill="#b9271f"/>
<line x1="284.22" y1="349.6" x2="284.22" y2="363.5" stroke="#a3a3a3" stroke-width="1"/>
<rect x="283.22" y="354.7" width="2" height="1.3" fill="#1c7849"/>
<line x1="287.20" y1="351.5" x2="287.20" y2="373.0" stroke="#a3a3a3" stroke-width="1"/>
<rect x="286.20" y="354.7" width="2" height="17.6" fill="#b9271f"/>
<line x1="290.19" y1="341.4" x2="290.19" y2="372.5" stroke="#a3a3a3" stroke-width="1"/>
<rect x="289.19" y="345.2" width="2" height="26.5" fill="#1c7849"/>
<line x1="293.17" y1="340.8" x2="293.17" y2="359.7" stroke="#a3a3a3" stroke-width="1"/>
<rect x="292.17" y="345.3" width="2" height="12.0" fill="#b9271f"/>
<line x1="296.15" y1="348.5" x2="296.15" y2="359.8" stroke="#a3a3a3" stroke-width="1"/>
<rect x="295.15" y="350.4" width="2" height="6.9" fill="#1c7849"/>
<line x1="299.13" y1="350.0" x2="299.13" y2="366.8" stroke="#a3a3a3" stroke-width="1"/>
<rect x="298.13" y="350.4" width="2" height="11.9" fill="#b9271f"/>
<line x1="302.11" y1="351.0" x2="302.11" y2="365.5" stroke="#a3a3a3" stroke-width="1"/>
<rect x="301.11" y="351.6" width="2" height="10.7" fill="#1c7849"/>
<line x1="305.09" y1="342.8" x2="305.09" y2="353.0" stroke="#a3a3a3" stroke-width="1"/>
<rect x="304.09" y="344.7" width="2" height="7.5" fill="#1c7849"/>
<line x1="308.07" y1="344.0" x2="308.07" y2="358.6" stroke="#a3a3a3" stroke-width="1"/>
<rect x="307.07" y="344.7" width="2" height="10.7" fill="#b9271f"/>
<line x1="311.05" y1="349.7" x2="311.05" y2="359.8" stroke="#a3a3a3" stroke-width="1"/>
<rect x="310.05" y="351.6" width="2" height="3.8" fill="#1c7849"/>
<line x1="314.03" y1="349.0" x2="314.03" y2="357.0" stroke="#a3a3a3" stroke-width="1"/>
<rect x="313.03" y="352.2" width="2" height="3.8" fill="#b9271f"/>
<line x1="317.01" y1="331.4" x2="317.01" y2="357.0" stroke="#a3a3a3" stroke-width="1"/>
<rect x="316.01" y="335.2" width="2" height="20.8" fill="#1c7849"/>
<line x1="320.00" y1="332.7" x2="320.00" y2="344.0" stroke="#a3a3a3" stroke-width="1"/>
<rect x="319.00" y="335.2" width="2" height="4.4" fill="#b9271f"/>
<line x1="322.98" y1="331.4" x2="322.98" y2="343.4" stroke="#a3a3a3" stroke-width="1"/>
<rect x="321.98" y="339.6" width="2" height="1.9" fill="#b9271f"/>
<line x1="325.96" y1="336.5" x2="325.96" y2="343.5" stroke="#a3a3a3" stroke-width="1"/>
<rect x="324.96" y="341.0" width="2" height="1.8" fill="#b9271f"/>
<line x1="328.94" y1="337.0" x2="328.94" y2="373.0" stroke="#a3a3a3" stroke-width="1"/>
<rect x="327.94" y="342.0" width="2" height="30.2" fill="#b9271f"/>
<line x1="331.92" y1="366.6" x2="331.92" y2="375.4" stroke="#a3a3a3" stroke-width="1"/>
<rect x="330.92" y="371.0" width="2" height="1.6" fill="#b9271f"/>
<line x1="334.90" y1="371.0" x2="334.90" y2="373.5" stroke="#a3a3a3" stroke-width="1"/>
<rect x="333.90" y="371.6" width="2" height="1.3" fill="#b9271f"/>
<line x1="337.88" y1="370.4" x2="337.88" y2="383.0" stroke="#a3a3a3" stroke-width="1"/>
<rect x="336.88" y="372.9" width="2" height="9.4" fill="#b9271f"/>
<line x1="340.86" y1="364.7" x2="340.86" y2="383.0" stroke="#a3a3a3" stroke-width="1"/>
<rect x="339.86" y="369.0" width="2" height="13.3" fill="#1c7849"/>
<line x1="343.84" y1="366.6" x2="343.84" y2="377.5" stroke="#a3a3a3" stroke-width="1"/>
<rect x="342.84" y="369.0" width="2" height="7.7" fill="#b9271f"/>
<line x1="346.82" y1="368.5" x2="346.82" y2="377.5" stroke="#a3a3a3" stroke-width="1"/>
<rect x="345.82" y="375.0" width="2" height="1.7" fill="#1c7849"/>
<line x1="349.81" y1="370.5" x2="349.81" y2="379.8" stroke="#a3a3a3" stroke-width="1"/>
<rect x="348.81" y="371.0" width="2" height="4.4" fill="#1c7849"/>
<line x1="352.79" y1="371.0" x2="352.79" y2="376.0" stroke="#a3a3a3" stroke-width="1"/>
<rect x="351.79" y="371.6" width="2" height="3.8" fill="#b9271f"/>
<line x1="355.77" y1="358.4" x2="355.77" y2="375.5" stroke="#a3a3a3" stroke-width="1"/>
<rect x="354.77" y="367.8" width="2" height="7.0" fill="#1c7849"/>
<line x1="358.75" y1="365.3" x2="358.75" y2="384.9" stroke="#a3a3a3" stroke-width="1"/>
<rect x="357.75" y="367.8" width="2" height="14.5" fill="#b9271f"/>
<line x1="361.73" y1="381.0" x2="361.73" y2="384.0" stroke="#a3a3a3" stroke-width="1"/>
<rect x="360.73" y="381.6" width="2" height="1.4" fill="#b9271f"/>
<line x1="364.71" y1="374.0" x2="364.71" y2="391.6" stroke="#a3a3a3" stroke-width="1"/>
<rect x="363.71" y="377.7" width="2" height="5.1" fill="#1c7849"/>
<line x1="367.69" y1="375.8" x2="367.69" y2="381.5" stroke="#a3a3a3" stroke-width="1"/>
<rect x="366.69" y="377.7" width="2" height="1.5" fill="#b9271f"/>
<line x1="370.67" y1="375.0" x2="370.67" y2="379.5" stroke="#a3a3a3" stroke-width="1"/>
<rect x="369.67" y="377.0" width="2" height="2.0" fill="#1c7849"/>
<line x1="373.65" y1="375.8" x2="373.65" y2="379.5" stroke="#a3a3a3" stroke-width="1"/>
<rect x="372.65" y="377.0" width="2" height="1.7" fill="#b9271f"/>
<line x1="376.63" y1="368.9" x2="376.63" y2="379.5" stroke="#a3a3a3" stroke-width="1"/>
<rect x="375.63" y="378.0" width="2" height="1.2" fill="#1c7849"/>
<line x1="379.62" y1="378.5" x2="379.62" y2="385.3" stroke="#a3a3a3" stroke-width="1"/>
<rect x="378.62" y="379.0" width="2" height="2.5" fill="#b9271f"/>
<line x1="382.60" y1="381.0" x2="382.60" y2="392.9" stroke="#a3a3a3" stroke-width="1"/>
<rect x="381.60" y="381.5" width="2" height="7.5" fill="#b9271f"/>
<line x1="385.58" y1="388.5" x2="385.58" y2="394.8" stroke="#a3a3a3" stroke-width="1"/>
<rect x="384.58" y="388.8" width="2" height="2.8" fill="#b9271f"/>
<line x1="388.56" y1="384.0" x2="388.56" y2="391.5" stroke="#a3a3a3" stroke-width="1"/>
<rect x="387.56" y="386.6" width="2" height="4.4" fill="#1c7849"/>
<line x1="391.54" y1="384.0" x2="391.54" y2="389.5" stroke="#a3a3a3" stroke-width="1"/>
<rect x="390.54" y="386.6" width="2" height="2.4" fill="#b9271f"/>
<line x1="394.52" y1="383.8" x2="394.52" y2="391.6" stroke="#a3a3a3" stroke-width="1"/>
<rect x="393.52" y="386.6" width="2" height="3.8" fill="#1c7849"/>
<line x1="397.50" y1="383.5" x2="397.50" y2="387.0" stroke="#a3a3a3" stroke-width="1"/>
<rect x="396.50" y="384.0" width="2" height="2.5" fill="#1c7849"/>
<line x1="400.48" y1="383.5" x2="400.48" y2="390.0" stroke="#a3a3a3" stroke-width="1"/>
<rect x="399.48" y="384.0" width="2" height="5.2" fill="#b9271f"/>
<line x1="403.46" y1="388.0" x2="403.46" y2="390.5" stroke="#a3a3a3" stroke-width="1"/>
<rect x="402.46" y="388.6" width="2" height="1.2" fill="#b9271f"/>
<line x1="406.44" y1="387.0" x2="406.44" y2="390.0" stroke="#a3a3a3" stroke-width="1"/>
<rect x="405.44" y="388.0" width="2" height="1.2" fill="#1c7849"/>
<line x1="409.43" y1="387.5" x2="409.43" y2="396.0" stroke="#a3a3a3" stroke-width="1"/>
<rect x="408.43" y="388.0" width="2" height="5.0" fill="#b9271f"/>
<line x1="412.41" y1="392.0" x2="412.41" y2="395.0" stroke="#a3a3a3" stroke-width="1"/>
<rect x="411.41" y="392.3" width="2" height="1.9" fill="#b9271f"/>
<line x1="415.39" y1="364.6" x2="415.39" y2="395.0" stroke="#a3a3a3" stroke-width="1"/>
<rect x="414.39" y="370.9" width="2" height="23.3" fill="#1c7849"/>
<line x1="418.37" y1="370.0" x2="418.37" y2="373.0" stroke="#a3a3a3" stroke-width="1"/>
<rect x="417.37" y="370.9" width="2" height="1.2" fill="#b9271f"/>
<line x1="421.35" y1="368.5" x2="421.35" y2="375.3" stroke="#a3a3a3" stroke-width="1"/>
<rect x="420.35" y="369.2" width="2" height="2.9" fill="#1c7849"/>
<line x1="424.33" y1="368.5" x2="424.33" y2="374.5" stroke="#a3a3a3" stroke-width="1"/>
<rect x="423.33" y="369.2" width="2" height="4.8" fill="#b9271f"/>
<line x1="427.31" y1="373.0" x2="427.31" y2="376.6" stroke="#a3a3a3" stroke-width="1"/>
<rect x="426.31" y="373.8" width="2" height="1.2" fill="#1c7849"/>
<line x1="430.29" y1="369.6" x2="430.29" y2="377.0" stroke="#a3a3a3" stroke-width="1"/>
<rect x="429.29" y="373.5" width="2" height="2.3" fill="#b9271f"/>
<line x1="433.27" y1="374.5" x2="433.27" y2="377.0" stroke="#a3a3a3" stroke-width="1"/>
<rect x="432.27" y="375.2" width="2" height="1.2" fill="#b9271f"/>
<line x1="436.25" y1="374.0" x2="436.25" y2="377.0" stroke="#a3a3a3" stroke-width="1"/>
<rect x="435.25" y="375.0" width="2" height="1.2" fill="#1c7849"/>
<line x1="439.24" y1="374.0" x2="439.24" y2="376.0" stroke="#a3a3a3" stroke-width="1"/>
<rect x="438.24" y="374.5" width="2" height="1.2" fill="#1c7849"/>
<line x1="442.22" y1="366.0" x2="442.22" y2="376.5" stroke="#a3a3a3" stroke-width="1"/>
<rect x="441.22" y="369.9" width="2" height="5.7" fill="#1c7849"/>
<line x1="445.20" y1="346.5" x2="445.20" y2="370.5" stroke="#a3a3a3" stroke-width="1"/>
<rect x="444.20" y="350.3" width="2" height="19.6" fill="#1c7849"/>
<line x1="448.18" y1="342.5" x2="448.18" y2="353.5" stroke="#a3a3a3" stroke-width="1"/>
<rect x="447.18" y="349.3" width="2" height="1.7" fill="#1c7849"/>
<line x1="451.16" y1="342.0" x2="451.16" y2="351.0" stroke="#a3a3a3" stroke-width="1"/>
<rect x="450.16" y="344.0" width="2" height="6.0" fill="#1c7849"/>
<line x1="454.14" y1="337.0" x2="454.14" y2="354.7" stroke="#a3a3a3" stroke-width="1"/>
<rect x="453.14" y="344.0" width="2" height="4.4" fill="#b9271f"/>
<line x1="457.12" y1="343.5" x2="457.12" y2="349.0" stroke="#a3a3a3" stroke-width="1"/>
<rect x="456.12" y="344.0" width="2" height="4.4" fill="#1c7849"/>
<line x1="460.10" y1="328.2" x2="460.10" y2="345.5" stroke="#a3a3a3" stroke-width="1"/>
<rect x="459.10" y="330.7" width="2" height="13.9" fill="#1c7849"/>
<line x1="463.08" y1="325.7" x2="463.08" y2="363.5" stroke="#a3a3a3" stroke-width="1"/>
<rect x="462.08" y="330.7" width="2" height="32.2" fill="#b9271f"/>
<line x1="466.06" y1="351.0" x2="466.06" y2="363.0" stroke="#a3a3a3" stroke-width="1"/>
<rect x="465.06" y="355.0" width="2" height="7.3" fill="#1c7849"/>
<line x1="469.05" y1="354.8" x2="469.05" y2="358.0" stroke="#a3a3a3" stroke-width="1"/>
<rect x="468.05" y="355.3" width="2" height="1.9" fill="#b9271f"/>
<line x1="472.03" y1="353.4" x2="472.03" y2="367.9" stroke="#a3a3a3" stroke-width="1"/>
<rect x="471.03" y="356.5" width="2" height="1.3" fill="#b9271f"/>
<line x1="475.01" y1="350.2" x2="475.01" y2="358.0" stroke="#a3a3a3" stroke-width="1"/>
<rect x="474.01" y="356.5" width="2" height="1.2" fill="#b9271f"/>
<line x1="477.99" y1="355.5" x2="477.99" y2="358.5" stroke="#a3a3a3" stroke-width="1"/>
<rect x="476.99" y="355.9" width="2" height="1.9" fill="#1c7849"/>
<line x1="480.97" y1="355.5" x2="480.97" y2="361.0" stroke="#a3a3a3" stroke-width="1"/>
<rect x="479.97" y="356.0" width="2" height="1.2" fill="#b9271f"/>
<line x1="483.95" y1="355.5" x2="483.95" y2="359.0" stroke="#a3a3a3" stroke-width="1"/>
<rect x="482.95" y="355.9" width="2" height="2.5" fill="#b9271f"/>
<line x1="486.93" y1="358.0" x2="486.93" y2="366.6" stroke="#a3a3a3" stroke-width="1"/>
<rect x="485.93" y="358.4" width="2" height="7.0" fill="#b9271f"/>
<line x1="489.91" y1="352.0" x2="489.91" y2="366.0" stroke="#a3a3a3" stroke-width="1"/>
<rect x="488.91" y="352.5" width="2" height="12.9" fill="#1c7849"/>
<line x1="492.89" y1="350.2" x2="492.89" y2="354.0" stroke="#a3a3a3" stroke-width="1"/>
<rect x="491.89" y="352.0" width="2" height="1.4" fill="#b9271f"/>
<line x1="495.87" y1="348.7" x2="495.87" y2="353.5" stroke="#a3a3a3" stroke-width="1"/>
<rect x="494.87" y="352.0" width="2" height="1.2" fill="#1c7849"/>
<line x1="498.86" y1="347.0" x2="498.86" y2="360.3" stroke="#a3a3a3" stroke-width="1"/>
<rect x="497.86" y="352.0" width="2" height="2.0" fill="#b9271f"/>
<line x1="501.84" y1="344.6" x2="501.84" y2="354.0" stroke="#a3a3a3" stroke-width="1"/>
<rect x="500.84" y="347.0" width="2" height="6.6" fill="#1c7849"/>
<line x1="504.82" y1="346.5" x2="504.82" y2="349.0" stroke="#a3a3a3" stroke-width="1"/>
<rect x="503.82" y="347.0" width="2" height="1.4" fill="#b9271f"/>
<line x1="507.80" y1="348.0" x2="507.80" y2="354.0" stroke="#a3a3a3" stroke-width="1"/>
<rect x="506.80" y="348.4" width="2" height="5.1" fill="#b9271f"/>
<line x1="510.78" y1="351.5" x2="510.78" y2="356.0" stroke="#a3a3a3" stroke-width="1"/>
<rect x="509.78" y="352.2" width="2" height="1.2" fill="#b9271f"/>
<line x1="513.76" y1="352.5" x2="513.76" y2="354.5" stroke="#a3a3a3" stroke-width="1"/>
<rect x="512.76" y="353.0" width="2" height="1.2" fill="#b9271f"/>
<line x1="516.74" y1="349.0" x2="516.74" y2="358.5" stroke="#a3a3a3" stroke-width="1"/>
<rect x="515.74" y="352.2" width="2" height="1.3" fill="#1c7849"/>
<line x1="519.72" y1="348.0" x2="519.72" y2="354.5" stroke="#a3a3a3" stroke-width="1"/>
<rect x="518.72" y="348.4" width="2" height="5.4" fill="#1c7849"/>
<line x1="522.70" y1="335.0" x2="522.70" y2="349.0" stroke="#a3a3a3" stroke-width="1"/>
<rect x="521.70" y="341.5" width="2" height="6.9" fill="#1c7849"/>
<line x1="525.68" y1="341.5" x2="525.68" y2="344.0" stroke="#a3a3a3" stroke-width="1"/>
<rect x="524.68" y="342.1" width="2" height="1.3" fill="#b9271f"/>
<line x1="528.66" y1="340.2" x2="528.66" y2="344.0" stroke="#a3a3a3" stroke-width="1"/>
<rect x="527.66" y="342.0" width="2" height="1.2" fill="#1c7849"/>
<line x1="531.65" y1="339.5" x2="531.65" y2="344.0" stroke="#a3a3a3" stroke-width="1"/>
<rect x="530.65" y="340.2" width="2" height="3.2" fill="#1c7849"/>
<line x1="534.63" y1="337.5" x2="534.63" y2="342.0" stroke="#a3a3a3" stroke-width="1"/>
<rect x="533.63" y="338.3" width="2" height="3.2" fill="#1c7849"/>
<line x1="537.61" y1="337.5" x2="537.61" y2="347.8" stroke="#a3a3a3" stroke-width="1"/>
<rect x="536.61" y="338.3" width="2" height="6.3" fill="#b9271f"/>
<line x1="540.59" y1="343.0" x2="540.59" y2="346.0" stroke="#a3a3a3" stroke-width="1"/>
<rect x="539.59" y="344.0" width="2" height="1.2" fill="#b9271f"/>
<line x1="543.57" y1="343.0" x2="543.57" y2="345.5" stroke="#a3a3a3" stroke-width="1"/>
<rect x="542.57" y="343.5" width="2" height="1.3" fill="#1c7849"/>
<line x1="546.55" y1="343.0" x2="546.55" y2="346.5" stroke="#a3a3a3" stroke-width="1"/>
<rect x="545.55" y="343.5" width="2" height="2.5" fill="#b9271f"/>
<line x1="549.53" y1="345.0" x2="549.53" y2="353.6" stroke="#a3a3a3" stroke-width="1"/>
<rect x="548.53" y="345.4" width="2" height="6.3" fill="#b9271f"/>
<line x1="552.51" y1="348.0" x2="552.51" y2="352.5" stroke="#a3a3a3" stroke-width="1"/>
<rect x="551.51" y="348.6" width="2" height="3.1" fill="#1c7849"/>
<line x1="555.49" y1="340.0" x2="555.49" y2="350.0" stroke="#a3a3a3" stroke-width="1"/>
<rect x="554.49" y="340.4" width="2" height="8.8" fill="#1c7849"/>
<line x1="558.47" y1="339.5" x2="558.47" y2="342.5" stroke="#a3a3a3" stroke-width="1"/>
<rect x="557.47" y="340.0" width="2" height="1.6" fill="#b9271f"/>
<line x1="561.46" y1="332.5" x2="561.46" y2="342.0" stroke="#a3a3a3" stroke-width="1"/>
<rect x="560.46" y="334.0" width="2" height="7.6" fill="#1c7849"/>
<line x1="564.44" y1="332.0" x2="564.44" y2="339.0" stroke="#a3a3a3" stroke-width="1"/>
<rect x="563.44" y="334.3" width="2" height="1.3" fill="#b9271f"/>
<line x1="567.42" y1="334.0" x2="567.42" y2="336.5" stroke="#a3a3a3" stroke-width="1"/>
<rect x="566.42" y="335.0" width="2" height="1.2" fill="#b9271f"/>
<line x1="570.40" y1="330.8" x2="570.40" y2="337.8" stroke="#a3a3a3" stroke-width="1"/>
<rect x="569.40" y="332.8" width="2" height="3.2" fill="#1c7849"/>
<line x1="573.38" y1="259.5" x2="573.38" y2="333.5" stroke="#a3a3a3" stroke-width="1"/>
<rect x="572.38" y="274.0" width="2" height="58.8" fill="#1c7849"/>
<line x1="576.36" y1="268.0" x2="576.36" y2="280.4" stroke="#a3a3a3" stroke-width="1"/>
<rect x="575.36" y="269.6" width="2" height="4.7" fill="#1c7849"/>
<line x1="579.34" y1="269.0" x2="579.34" y2="280.4" stroke="#a3a3a3" stroke-width="1"/>
<rect x="578.34" y="269.6" width="2" height="3.4" fill="#b9271f"/>
<line x1="582.32" y1="260.0" x2="582.32" y2="271.0" stroke="#a3a3a3" stroke-width="1"/>
<rect x="581.32" y="261.7" width="2" height="8.8" fill="#1c7849"/>
<line x1="585.30" y1="252.0" x2="585.30" y2="263.0" stroke="#a3a3a3" stroke-width="1"/>
<rect x="584.30" y="255.0" width="2" height="7.0" fill="#1c7849"/>
<line x1="588.28" y1="242.0" x2="588.28" y2="261.0" stroke="#a3a3a3" stroke-width="1"/>
<rect x="587.28" y="248.5" width="2" height="12.0" fill="#1c7849"/>
<line x1="591.27" y1="237.7" x2="591.27" y2="249.0" stroke="#a3a3a3" stroke-width="1"/>
<rect x="590.27" y="242.0" width="2" height="6.5" fill="#1c7849"/>
<line x1="594.25" y1="242.0" x2="594.25" y2="251.0" stroke="#a3a3a3" stroke-width="1"/>
<rect x="593.25" y="242.8" width="2" height="7.5" fill="#b9271f"/>
<line x1="597.23" y1="228.9" x2="597.23" y2="251.0" stroke="#a3a3a3" stroke-width="1"/>
<rect x="596.23" y="242.8" width="2" height="7.5" fill="#1c7849"/>
<line x1="600.21" y1="242.0" x2="600.21" y2="264.0" stroke="#a3a3a3" stroke-width="1"/>
<rect x="599.21" y="242.8" width="2" height="20.2" fill="#b9271f"/>
<line x1="603.19" y1="258.0" x2="603.19" y2="264.0" stroke="#a3a3a3" stroke-width="1"/>
<rect x="602.19" y="258.6" width="2" height="4.4" fill="#1c7849"/>
<line x1="606.17" y1="258.0" x2="606.17" y2="260.5" stroke="#a3a3a3" stroke-width="1"/>
<rect x="605.17" y="258.6" width="2" height="1.2" fill="#b9271f"/>
<line x1="609.15" y1="251.0" x2="609.15" y2="260.0" stroke="#a3a3a3" stroke-width="1"/>
<rect x="608.15" y="252.0" width="2" height="7.0" fill="#1c7849"/>
<line x1="612.13" y1="251.5" x2="612.13" y2="265.0" stroke="#a3a3a3" stroke-width="1"/>
<rect x="611.13" y="252.0" width="2" height="12.2" fill="#b9271f"/>
<line x1="615.11" y1="248.0" x2="615.11" y2="266.0" stroke="#a3a3a3" stroke-width="1"/>
<rect x="614.11" y="248.6" width="2" height="16.4" fill="#1c7849"/>
<line x1="618.09" y1="246.0" x2="618.09" y2="250.5" stroke="#a3a3a3" stroke-width="1"/>
<rect x="617.09" y="246.7" width="2" height="3.1" fill="#1c7849"/>
<line x1="621.08" y1="239.7" x2="621.08" y2="248.0" stroke="#a3a3a3" stroke-width="1"/>
<rect x="620.08" y="242.2" width="2" height="5.1" fill="#1c7849"/>
<line x1="624.06" y1="237.2" x2="624.06" y2="242.5" stroke="#a3a3a3" stroke-width="1"/>
<rect x="623.06" y="239.0" width="2" height="2.6" fill="#1c7849"/>
<line x1="627.04" y1="240.0" x2="627.04" y2="243.5" stroke="#a3a3a3" stroke-width="1"/>
<rect x="626.04" y="240.4" width="2" height="2.5" fill="#1c7849"/>
<line x1="630.02" y1="240.0" x2="630.02" y2="243.0" stroke="#a3a3a3" stroke-width="1"/>
<rect x="629.02" y="240.4" width="2" height="1.8" fill="#b9271f"/>
<line x1="633.00" y1="233.5" x2="633.00" y2="243.0" stroke="#a3a3a3" stroke-width="1"/>
<rect x="632.00" y="234.0" width="2" height="8.2" fill="#1c7849"/>
<line x1="635.98" y1="215.7" x2="635.98" y2="235.5" stroke="#a3a3a3" stroke-width="1"/>
<rect x="634.98" y="223.3" width="2" height="11.4" fill="#1c7849"/>
<line x1="638.96" y1="212.0" x2="638.96" y2="229.5" stroke="#a3a3a3" stroke-width="1"/>
<rect x="637.96" y="223.3" width="2" height="5.7" fill="#b9271f"/>
<line x1="641.94" y1="228.5" x2="641.94" y2="251.0" stroke="#a3a3a3" stroke-width="1"/>
<rect x="640.94" y="229.0" width="2" height="21.5" fill="#b9271f"/>
<line x1="644.92" y1="233.5" x2="644.92" y2="251.0" stroke="#a3a3a3" stroke-width="1"/>
<rect x="643.92" y="234.0" width="2" height="16.5" fill="#1c7849"/>
<line x1="647.90" y1="231.0" x2="647.90" y2="238.6" stroke="#a3a3a3" stroke-width="1"/>
<rect x="646.90" y="234.4" width="2" height="1.6" fill="#b9271f"/>
<line x1="650.89" y1="223.4" x2="650.89" y2="236.5" stroke="#a3a3a3" stroke-width="1"/>
<rect x="649.89" y="228.5" width="2" height="7.2" fill="#1c7849"/>
<line x1="653.87" y1="226.0" x2="653.87" y2="237.3" stroke="#a3a3a3" stroke-width="1"/>
<rect x="652.87" y="228.0" width="2" height="1.7" fill="#b9271f"/>
<line x1="656.85" y1="218.5" x2="656.85" y2="230.5" stroke="#a3a3a3" stroke-width="1"/>
<rect x="655.85" y="219.0" width="2" height="10.7" fill="#1c7849"/>
<line x1="659.83" y1="215.2" x2="659.83" y2="220.5" stroke="#a3a3a3" stroke-width="1"/>
<rect x="658.83" y="216.7" width="2" height="2.9" fill="#1c7849"/>
<line x1="662.81" y1="203.8" x2="662.81" y2="218.0" stroke="#a3a3a3" stroke-width="1"/>
<rect x="661.81" y="209.0" width="2" height="8.5" fill="#1c7849"/>
<line x1="665.79" y1="174.0" x2="665.79" y2="210.0" stroke="#a3a3a3" stroke-width="1"/>
<rect x="664.79" y="185.5" width="2" height="23.5" fill="#1c7849"/>
<line x1="668.77" y1="171.0" x2="668.77" y2="196.8" stroke="#a3a3a3" stroke-width="1"/>
<rect x="667.77" y="179.0" width="2" height="7.0" fill="#1c7849"/>
<line x1="671.75" y1="178.5" x2="671.75" y2="191.8" stroke="#a3a3a3" stroke-width="1"/>
<rect x="670.75" y="179.0" width="2" height="4.6" fill="#b9271f"/>
<line x1="674.73" y1="177.9" x2="674.73" y2="195.0" stroke="#a3a3a3" stroke-width="1"/>
<rect x="673.73" y="183.6" width="2" height="1.6" fill="#b9271f"/>
<line x1="677.71" y1="160.8" x2="677.71" y2="185.5" stroke="#a3a3a3" stroke-width="1"/>
<rect x="676.71" y="179.0" width="2" height="5.8" fill="#1c7849"/>
<line x1="680.70" y1="169.0" x2="680.70" y2="179.0" stroke="#a3a3a3" stroke-width="1"/>
<rect x="679.70" y="171.0" width="2" height="7.5" fill="#1c7849"/>
<line x1="683.68" y1="159.0" x2="683.68" y2="171.5" stroke="#a3a3a3" stroke-width="1"/>
<rect x="682.68" y="165.9" width="2" height="5.1" fill="#1c7849"/>
<line x1="686.66" y1="150.0" x2="686.66" y2="166.5" stroke="#a3a3a3" stroke-width="1"/>
<rect x="685.66" y="150.7" width="2" height="15.2" fill="#1c7849"/>
<!-- crosshair -->
<line x1="36" y1="144.2" x2="687" y2="144.2" stroke="#a3a6ad" stroke-width="1" stroke-dasharray="4 3.5"/>
<line x1="684.3" y1="22" x2="684.3" y2="433" stroke="#8f929a" stroke-width="1" stroke-dasharray="4 3.5"/>
</g>
<g filter="url(#wm0)" font-family="DejaVu Sans Condensed, DejaVu Sans, sans-serif" font-weight="bold" font-size="77.0" fill="#fff">
<text x="531.53" y="276.0" font-size="50.8" textLength="14.04" lengthAdjust="spacingAndGlyphs">.</text>
</g>
<g filter="url(#wm1)" font-family="DejaVu Sans Condensed, DejaVu Sans, sans-serif" font-weight="bold" font-size="77.0" fill="#fff">
<text x="69.68" y="276.0" textLength="45.19" lengthAdjust="spacingAndGlyphs">W</text>
</g>
<g filter="url(#wm2)" font-family="DejaVu Sans Condensed, DejaVu Sans, sans-serif" font-weight="bold" font-size="77.0" fill="#fff">
<text x="609.93" y="276.0" textLength="39.87" lengthAdjust="spacingAndGlyphs">M</text>
</g>
<g filter="url(#wm3)" font-family="DejaVu Sans Condensed, DejaVu Sans, sans-serif" font-weight="bold" font-size="77.0" fill="#fff">
<text x="452.04" y="276.0" textLength="25.40" lengthAdjust="spacingAndGlyphs">A</text>
</g>
<g filter="url(#wm4)" font-family="DejaVu Sans Condensed, DejaVu Sans, sans-serif" font-weight="bold" font-size="77.0" fill="#fff">
<text x="337.11" y="276.0" textLength="29.04" lengthAdjust="spacingAndGlyphs">S</text>
<text x="502.35" y="276.0" textLength="27.67" lengthAdjust="spacingAndGlyphs">S</text>
</g>
<g filter="url(#wm5)" font-family="DejaVu Sans Condensed, DejaVu Sans, sans-serif" font-weight="bold" font-size="77.0" fill="#fff">
<text x="134.32" y="276.0" textLength="29.97" lengthAdjust="spacingAndGlyphs">N</text>
<text x="305.75" y="276.0" textLength="30.61" lengthAdjust="spacingAndGlyphs">N</text>
<text x="419.02" y="276.0" textLength="29.97" lengthAdjust="spacingAndGlyphs">N</text>
</g>
<g filter="url(#wm6)" font-family="DejaVu Sans Condensed, DejaVu Sans, sans-serif" font-weight="bold" font-size="77.0" fill="#fff">
<text x="388.05" y="276.0" textLength="28.71" lengthAdjust="spacingAndGlyphs">G</text>
<text x="546.95" y="276.0" textLength="27.21" lengthAdjust="spacingAndGlyphs">C</text>
</g>
<g filter="url(#wm7)" font-family="DejaVu Sans Condensed, DejaVu Sans, sans-serif" font-weight="bold" font-size="77.0" fill="#fff">
<text x="231.86" y="276.0" textLength="19.39" lengthAdjust="spacingAndGlyphs">T</text>
<text x="483.39" y="276.0" textLength="13.28" lengthAdjust="spacingAndGlyphs">L</text>
</g>
<g filter="url(#wm8)" font-family="DejaVu Sans Condensed, DejaVu Sans, sans-serif" font-weight="bold" font-size="77.0" fill="#fff">
<text x="199.65" y="276.0" textLength="25.14" lengthAdjust="spacingAndGlyphs">P</text>
</g>
<g filter="url(#wm9)" font-family="DejaVu Sans Condensed, DejaVu Sans, sans-serif" font-weight="bold" font-size="77.0" fill="#fff">
<text x="119.16" y="276.0" textLength="9.48" lengthAdjust="spacingAndGlyphs">I</text>
<text x="257.68" y="276.0" textLength="11.45" lengthAdjust="spacingAndGlyphs">I</text>
<text x="369.43" y="276.0" textLength="12.83" lengthAdjust="spacingAndGlyphs">I</text>
</g>
<g filter="url(#wm10)" font-family="DejaVu Sans Condensed, DejaVu Sans, sans-serif" font-weight="bold" font-size="77.0" fill="#fff">
<text x="168.95" y="276.0" textLength="24.70" lengthAdjust="spacingAndGlyphs">O</text>
<text x="276.95" y="276.0" textLength="23.00" lengthAdjust="spacingAndGlyphs">O</text>
<text x="581.02" y="276.0" textLength="23.57" lengthAdjust="spacingAndGlyphs">O</text>
</g>
<!-- red rectangle -->
<rect x="608.3" y="116.7" width="111" height="205.8" fill="none" stroke="#cf1010" stroke-width="2.6"/>
<!-- scroll button -->
<circle cx="667.5" cy="419.5" r="9.5" fill="rgba(255,255,255,0.55)" stroke="#eef0f3" stroke-width="1"/>
<path d="M665 416 l3 3.5 l-3 3.5 M668.4 416 l3 3.5 l-3 3.5" fill="none" stroke="#5d6d8b" stroke-width="1.5"/>
<!-- axes lines -->
<line x1="688.3" y1="22" x2="688.3" y2="450" stroke="#9a9da4" stroke-width="1"/>
<line x1="36" y1="433.5" x2="687.8" y2="433.5" stroke="#8a8d94" stroke-width="1"/>
<line x1="36" y1="450.5" x2="720" y2="450.5" stroke="#e3e6ec" stroke-width="1"/>
</svg>

<!-- top bar -->
<div class="hs" style="left:0;top:21px;width:720px"></div>
<div class="a" style="left:33.3px;top:0;width:2.7px;height:475px;background:#e0e5ee"></div>
<div class="a" style="left:0;top:56.5px"></div>
<!-- avatar -->
<div class="a" style="left:9px;top:2px;width:15.3px;height:14px;background:#1a140e;border-radius:2.5px"></div>
<div class="a" style="left:10.5px;top:3.5px;font-size:6.5px;font-weight:bold;color:#d9b46a;line-height:7px">W</div>
<div class="a" style="left:11px;top:10.8px;width:10px;height:1.4px;background:#8a744a"></div>
<div class="a" style="left:11px;top:12.8px;width:7px;height:1px;background:#6f5d3c"></div>
<div class="a" style="left:20.2px;top:-3px;width:10.8px;height:10.8px;border-radius:50%;background:#f2385e;box-shadow:0 0 0 1.2px #fff"></div>
<div class="a" style="left:22.3px;top:-0.5px;font-size:7px;font-weight:bold;color:#fff;line-height:7px">11</div>

<div class="a tb" style="left:43.8px;top:5px;font-size:8.2px;letter-spacing:-0.3px">BTCUSD</div>
<div class="vs" style="left:100px"></div>
<div class="a tb" style="left:110px;top:5px;font-size:8.2px">D</div>
<div class="vs" style="left:124.5px"></div>
<!-- candles icon -->
<svg width="720" height="22" style="position:absolute;left:0;top:0">
<g fill="none" stroke="#3c3c3c" stroke-width="1">
<rect x="134" y="5" width="2.6" height="8" rx="1"/><line x1="135.3" y1="3" x2="135.3" y2="5"/><line x1="135.3" y1="13" x2="135.3" y2="15"/>
<rect x="139.2" y="6.5" width="2.6" height="5" rx="1"/><line x1="140.5" y1="4.5" x2="140.5" y2="6.5"/><line x1="140.5" y1="11.5" x2="140.5" y2="13.5"/>
<!-- plus circle -->
<circle cx="162" cy="9" r="5.6"/><line x1="159" y1="9" x2="165" y2="9"/><line x1="162" y1="6" x2="162" y2="12"/>
<!-- wave + -->
<path d="M180.5 8.5 q2.5 -3.5 5 0 t5 0"/><line x1="189.5" y1="13.3" x2="195" y2="13.3"/><line x1="192.2" y1="10.5" x2="192.2" y2="16"/>
<!-- double wave + -->
<path d="M205 6.5 q2.3 -3 4.6 0 t4.6 0 M205 9.5 q2.3 -3 4.6 0 t4.6 0"/><line x1="214" y1="13.3" x2="219.5" y2="13.3"/><line x1="216.7" y1="10.5" x2="216.7" y2="16"/>
<path d="M206 14 v-1.5 M207.5 14 v-2.5 M209 14 v-1.8 M210.5 14 v-3" stroke-width="0.8"/>
<!-- alarm -->
<circle cx="236.5" cy="9.5" r="4.8"/><path d="M231.5 6 l2 -2 M241.5 6 l-2 -2 M236.2 7 v3 l-1.2 1" /><line x1="239.5" y1="13.8" x2="244" y2="13.8"/><line x1="241.7" y1="11.5" x2="241.7" y2="16"/>
<!-- rewind -->
<path d="M263 5.5 l-4.5 3.5 l4.5 3.5 z M267.8 5.5 l-4.5 3.5 l4.5 3.5 z" stroke-width="1"/>
<!-- undo -->
<path d="M290.5 12.5 q0 -5 -5 -4.5 h-2.5 M285 5.5 l-2.5 2.5 l2.5 2.5" stroke-width="1.1"/>
<path d="M299.5 11.5 q0 -4.5 5 -4 h2 M305 5 l2 2 l-2 2" stroke="#cfd1d6" stroke-width="1.1"/>
<!-- square -->
<rect x="456.5" y="4.5" width="12.5" height="10" rx="1.8" stroke="#555" stroke-width="1.1"/>
<!-- cloud -->
<path d="M482.5 14.5 h9.5 a3 3 0 0 0 0.5 -6 a4 4 0 0 0 -7.5 -1 a3.5 3.5 0 0 0 -2.5 7z" stroke="#444"/>
<path d="M484.8 10.2 l1.6 1.6 l3 -3" stroke="#444"/>
<!-- chevron -->
<path d="M560 8 l2.3 2.3 l2.3 -2.3" stroke="#555"/>
<!-- gear -->
<circle cx="581.5" cy="9.5" r="2"/>
<path d="M581.5 3.8 l1.3 1.2 l1.7 -0.5 l0.6 1.7 l1.7 0.6 l-0.5 1.7 l1.2 1.3 l-1.2 1.3 l0.5 1.7 l-1.7 0.6 l-0.6 1.7 l-1.7 -0.5 l-1.3 1.2 l-1.3 -1.2 l-1.7 0.5 l-0.6 -1.7 l-1.7 -0.6 l0.5 -1.7 l-1.2 -1.3 l1.2 -1.3 l-0.5 -1.7 l1.7 -0.6 l0.6 -1.7 l1.7 0.5z"/>
<!-- fullscreen -->
<path d="M602 5.5 l2.5 2.5 M602 5.5 h2 M602 5.5 v2 M611.5 5.5 l-2.5 2.5 M611.5 5.5 h-2 M611.5 5.5 v2 M602 13.5 l2.5 -2.5 M602 13.5 h2 M602 13.5 v-2 M611.5 13.5 l-2.5 -2.5 M611.5 13.5 h-2 M611.5 13.5 v-2"/>
<!-- camera -->
<path d="M625 7.2 h2.5 l1.3 -2 h4.5 l1.3 2 h2.5 v6.8 h-12.1z"/><circle cx="631" cy="10.3" r="2.4"/>
</g>
<rect x="644" y="0" width="76" height="21" fill="#2196f3"/>
<line x1="695.3" y1="0" x2="695.3" y2="21" stroke="#6fbcf7" stroke-width="0.8"/>
<circle cx="707.2" cy="9.7" r="6.3" fill="none" stroke="#fff" stroke-width="1.1"/>
<path d="M705.5 6.7 l4.2 3 l-4.2 3z" fill="#fff"/>
</svg>
<div class="vs" style="left:149.5px"></div>
<div class="vs" style="left:175px"></div>
<div class="vs" style="left:199.6px"></div>
<div class="vs" style="left:224.4px"></div>
<div class="vs" style="left:250px"></div>
<div class="vs" style="left:274.6px"></div>
<div class="vs" style="left:315.6px"></div>
<div class="vs" style="left:449.7px"></div>
<div class="vs" style="left:474.6px"></div>
<div class="vs" style="left:570px"></div>
<div class="vs" style="left:593.3px"></div>
<div class="vs" style="left:619.6px"></div>
<div class="a" style="left:497px;top:5px;font-size:8.8px;color:#3a3a3a;line-height:10px;letter-spacing:0px">Без названия</div>
<div class="a" style="left:654.4px;top:3.8px;font-size:9.6px;color:#fff;line-height:11px;letter-spacing:-0.2px">Publish</div>

<!-- left toolbar -->
<svg width="34" height="475" style="position:absolute;left:0;top:0">
<g fill="none" stroke="#3a3a3a" stroke-width="1">
<!-- crosshair (blue) -->
<g stroke="#2fa3f0" stroke-width="1.3"><line x1="17" y1="30.5" x2="17" y2="35"/><line x1="17" y1="39.5" x2="17" y2="44"/><line x1="10" y1="37.3" x2="14.5" y2="37.3"/><line x1="19.5" y1="37.3" x2="24" y2="37.3"/></g>
<!-- line tool -->
<line x1="11" y1="65" x2="21.5" y2="55.2"/><circle cx="10.6" cy="65.4" r="1.2"/><circle cx="22" cy="54.8" r="1.2"/>
<!-- fork -->
<circle cx="10.7" cy="81.8" r="1.3"/><circle cx="10.7" cy="88.9" r="1.3"/><circle cx="18.3" cy="88.9" r="1.3"/>
<path d="M11.6 80.9 L16.9 75.8 M14.5 85.4 L19.8 80 M19.2 88 L23.6 83.6 M11.6 82.7 L17.4 88 M14.5 85.4 L11.6 88"/>
<!-- brush -->
<path d="M10.2 112 q-0.5 -4.5 3.8 -7 q3 -1.5 4.6 0.8 q1.2 3 -2.6 4.8 q-3 1.2 -5.8 1.4z M19.3 103.2 q0 2.3 2.2 2.2 l3.4 -3.2"/>
<!-- T -->
<path d="M12.5 125 h9 M12.5 125 v1.5 M21.5 125 v1.5 M17 125 v10 M15.2 135 h3.6"/>
<!-- pattern -->
<path d="M10.5 157.5 l2.5 -9.5 l5 7 l4.5 -8 l2 10 M13 148 l9.5 9.5 M10.5 157.5 l11 -10"/>
<circle cx="10.5" cy="157.5" r="1.1"/><circle cx="13" cy="148" r="1.1"/><circle cx="22" cy="147" r="1.1"/><circle cx="24" cy="157.5" r="1.1"/>
<!-- fib -->
<path d="M11.5 170.5 h11.5 M11.5 176 h11.5 M11.5 181.5 h11.5 M17 172 v8" />
<circle cx="10.3" cy="170.5" r="1.1"/><circle cx="10.3" cy="176" r="1.1"/><circle cx="10.3" cy="181.5" r="1.1"/><circle cx="23.5" cy="176" r="1.1"/>
<!-- arrow back -->
<path d="M21.8 199 h-9 M16.5 194.8 l-4.2 4.2 l4.2 4.2" stroke="#111" stroke-width="2"/>
<!-- ruler -->
<path d="M9.8 233.5 l10.5 -10.5 l3.2 3.2 l-10.5 10.5z M12.5 230.8 l1.2 1.2 M14.5 228.8 l1.6 1.6 M16.5 226.8 l1.2 1.2 M18.5 224.8 l1.6 1.6"/>
<!-- zoom -->
<circle cx="15" cy="252.5" r="4"/><path d="M18 255.5 l3 3 M13 252.5 h4 M15 250.5 v4"/>
<!-- magnet -->
<path d="M11.5 290 v-6 a5 5 0 0 1 10 0 v6 h-3 v-6 a2 2 0 0 0 -4 0 v6z M11.5 287.5 h3 M18.5 287.5 h3"/>
<!-- pencil lock -->
<path d="M9.8 310 l1 -3.5 l8 -8 l2.5 2.5 l-8 8z"/><rect x="18" y="309.5" width="4.8" height="4" rx="0.6"/><path d="M19 309.5 v-1.5 a1.4 1.4 0 0 1 2.8 0"/>
<!-- lock -->
<rect x="12" y="329.5" width="9.5" height="7.5" rx="1"/><path d="M14 329.5 v-2.5 a2.8 2.8 0 0 1 5.6 -0.8"/><circle cx="16.8" cy="333.2" r="0.7" fill="#3a3a3a"/>
<!-- eye -->
<path d="M10.2 355 q6.6 -7 13.4 0 q-6.6 7 -13.4 0z"/><circle cx="16.9" cy="355" r="2.2" fill="#3a3a3a"/>
<!-- trash -->
<path d="M12.3 381.3 h9 M14.8 381.3 v-1.2 h4 v1.2 M12.8 381.8 v9.2 a1.6 1.6 0 0 0 1.6 1.6 h4.8 a1.6 1.6 0 0 0 1.6 -1.6 v-9.2 M15 384 v6.5 M16.8 384 v6.5 M18.6 384 v6.5" stroke-width="1.1"/>
<!-- chevron up -->
<path d="M12.8 475.5 l3.7 -3.7 l3.7 3.7" stroke-width="1.3"/>
</g>
</svg>
<div class="hs" style="left:0;top:214px;width:34px"></div>
<div class="hs" style="left:0;top:268.4px;width:34px"></div>
<div class="hs" style="left:0;top:369.6px;width:34px"></div>
<!-- left side tab -->
<div class="a" style="left:29.5px;top:448.5px;width:5.5px;height:15.5px;border:1px solid #dfe2e8;border-right:none;border-radius:3px 0 0 3px;background:#fff"></div>
<div class="a" style="left:30.5px;top:452px;font-size:7px;color:#9aa0aa;line-height:8px">‹</div>

<!-- legend -->
<svg width="80" height="44" style="position:absolute;left:36px;top:22px">
<rect x="7.7" y="7.8" width="8" height="8" rx="1.8" fill="none" stroke="#9a9da3" stroke-width="1"/>
<line x1="9.6" y1="11.8" x2="13.8" y2="11.8" stroke="#9a9da3" stroke-width="1"/>
<path d="M22 7.5 h7 l-2 4 l2 4 h-7z" fill="#c3c6cc"/>
</svg>
<div class="a lg" id="t1" style="left:68.5px;letter-spacing:0.05px">Bitcoin / U.S. Dollar</div>
<div class="a lg" style="left:171.1px">·</div>
<div class="a lg" id="t2" style="left:175.6px;letter-spacing:0;transform:scaleX(0.8);transform-origin:0 0">1D</div>
<div class="a lg" style="left:188.7px">·</div>
<div class="a lg" id="t3" style="left:195.6px;letter-spacing:0;transform:scaleX(0.86);transform-origin:0 0">BITFINEX</div>
<svg width="8" height="8" style="position:absolute;left:240.5px;top:31px"><path d="M1 2 l2.5 2.5 l2.5 -2.5" fill="none" stroke="#555" stroke-width="1.1"/></svg>
<div class="a lg lv" style="left:263.9px;color:#126b3f"><span style="color:#555">O</span>6201.8</div>
<div class="a lg lv" style="left:310.2px;color:#126b3f"><span style="color:#555">H</span>6344.0</div>
<div class="a lg lv" style="left:356.6px;color:#126b3f"><span style="color:#555">L</span>6153.5</div>
<div class="a lg lv" style="left:400.7px;color:#126b3f"><span style="color:#555">C</span>6262.0</div>
<div class="a lg lv" style="left:446.4px;color:#126b3f">+60.5 (+0.98%)</div>

<div class="a ind" style="left:43.8px;top:45.5px">Vol (20)</div>
<div class="a ind" style="left:43.8px;top:61.2px">MA (50, close)</div>
<div class="a ind" style="left:43.8px;top:77.1px">MA (200, close)</div>
<svg width="720" height="90" style="position:absolute;left:0;top:0">
<g fill="none" stroke="#444" stroke-width="1"><path d="M76.3 49.5 l2 2 l2 -2 M100 65.2 l2 2 l2 -2 M104.3 81.1 l2 2 l2 -2"/></g>
</svg>
<svg width="200" height="90" style="position:absolute;left:0;top:0">
<rect x="88.0" y="45.1" width="8.6" height="8.7" rx="1.3" fill="#c6c9cf"/>
<rect x="99.0" y="45.1" width="8.6" height="8.7" rx="1.3" fill="#c6c9cf"/>
<rect x="110.0" y="45.1" width="8.6" height="8.7" rx="1.3" fill="#c6c9cf"/>
<path d="M89.3 49.5 q3 -3.2 6 0 q-3 3.2 -6 0z" fill="none" stroke="#fff" stroke-width="1.1"/><circle cx="92.3" cy="49.5" r="0.9" fill="#fff"/>
<circle cx="103.3" cy="49.5" r="2.2" fill="none" stroke="#fff" stroke-width="1.4" stroke-dasharray="1.3 0.43"/>
<path d="M112.0 47.2 l4.6 4.6 M116.6 47.2 l-4.6 4.6" stroke="#fff" stroke-width="1.3"/>
<rect x="110.4" y="60.7" width="8.6" height="8.7" rx="1.3" fill="#c6c9cf"/>
<rect x="121.4" y="60.7" width="8.6" height="8.7" rx="1.3" fill="#c6c9cf"/>
<rect x="132.4" y="60.7" width="8.6" height="8.7" rx="1.3" fill="#c6c9cf"/>
<path d="M111.7 65.0 q3 -3.2 6 0 q-3 3.2 -6 0z" fill="none" stroke="#fff" stroke-width="1.1"/><circle cx="114.7" cy="65.0" r="0.9" fill="#fff"/>
<circle cx="125.7" cy="65.0" r="2.2" fill="none" stroke="#fff" stroke-width="1.4" stroke-dasharray="1.3 0.43"/>
<path d="M134.4 62.8 l4.6 4.6 M139.0 62.8 l-4.6 4.6" stroke="#fff" stroke-width="1.3"/>
<rect x="115.5" y="76.3" width="8.6" height="8.7" rx="1.3" fill="#c6c9cf"/>
<rect x="126.5" y="76.3" width="8.6" height="8.7" rx="1.3" fill="#c6c9cf"/>
<rect x="137.5" y="76.3" width="8.6" height="8.7" rx="1.3" fill="#c6c9cf"/>
<path d="M116.8 80.6 q3 -3.2 6 0 q-3 3.2 -6 0z" fill="none" stroke="#fff" stroke-width="1.1"/><circle cx="119.8" cy="80.6" r="0.9" fill="#fff"/>
<circle cx="130.8" cy="80.6" r="2.2" fill="none" stroke="#fff" stroke-width="1.4" stroke-dasharray="1.3 0.43"/>
<path d="M139.5 78.3 l4.6 4.6 M144.1 78.3 l-4.6 4.6" stroke="#fff" stroke-width="1.3"/>
</svg>
<div class="a ind" style="left:123px;top:45.5px;color:#22ab9c">9.682K</div>
<div class="a ind" style="left:154px;top:45.5px;color:#f7a064">10.911K</div>
<div class="a ind" style="left:146.7px;top:61.2px;color:#f26d22">5111.5978</div>
<div class="a ind" style="left:151.8px;top:77.1px;color:#1cbfd6">4511.2776</div>

<!-- price axis -->
<div class="pl" style="top:21.2px">8000.0</div>
<div class="pl" style="top:41.4px">7750.0</div>
<div class="pl" style="top:61.6px">7500.0</div>
<div class="pl" style="top:81.8px">7250.0</div>
<div class="pl" style="top:102.0px">7000.0</div>
<div class="pl" style="top:122.2px">6750.0</div>
<div class="pl" style="top:162.6px">6250.0</div>
<div class="pl" style="top:182.8px">6000.0</div>
<div class="pl" style="top:203.0px">5750.0</div>
<div class="pl" style="top:223.2px">5500.0</div>
<div class="pl" style="top:243.4px">5250.0</div>
<div class="pl" style="top:263.6px">5000.0</div>
<div class="pl" style="top:283.8px">4750.0</div>
<div class="pl" style="top:304.0px">4500.0</div>
<div class="pl" style="top:324.2px">4250.0</div>
<div class="pl" style="top:344.4px">4000.0</div>
<div class="pl" style="top:364.6px">3750.0</div>
<div class="pl" style="top:384.8px">3500.0</div>
<div class="pl" style="top:405.0px">3250.0</div>
<div class="pl" style="top:425.2px">3000.0</div>
<svg width="10" height="475" style="position:absolute;left:687.6px;top:0">
<g stroke="#8a8d94" stroke-width="1">
<line x1="0.5" y1="25.2" x2="2.5" y2="25.2"/>
<line x1="0.5" y1="45.4" x2="2.5" y2="45.4"/>
<line x1="0.5" y1="65.6" x2="2.5" y2="65.6"/>
<line x1="0.5" y1="85.8" x2="2.5" y2="85.8"/>
<line x1="0.5" y1="106.0" x2="2.5" y2="106.0"/>
<line x1="0.5" y1="126.2" x2="2.5" y2="126.2"/>
<line x1="0.5" y1="146.4" x2="2.5" y2="146.4"/>
<line x1="0.5" y1="166.6" x2="2.5" y2="166.6"/>
<line x1="0.5" y1="186.8" x2="2.5" y2="186.8"/>
<line x1="0.5" y1="207.0" x2="2.5" y2="207.0"/>
<line x1="0.5" y1="227.2" x2="2.5" y2="227.2"/>
<line x1="0.5" y1="247.4" x2="2.5" y2="247.4"/>
<line x1="0.5" y1="267.6" x2="2.5" y2="267.6"/>
<line x1="0.5" y1="287.8" x2="2.5" y2="287.8"/>
<line x1="0.5" y1="308.0" x2="2.5" y2="308.0"/>
<line x1="0.5" y1="328.2" x2="2.5" y2="328.2"/>
<line x1="0.5" y1="348.4" x2="2.5" y2="348.4"/>
<line x1="0.5" y1="368.6" x2="2.5" y2="368.6"/>
<line x1="0.5" y1="388.8" x2="2.5" y2="388.8"/>
<line x1="0.5" y1="409.0" x2="2.5" y2="409.0"/>
<line x1="0.5" y1="429.2" x2="2.5" y2="429.2"/>
</g></svg>
<!-- price labels -->
<div class="a" style="left:688px;top:149.2px;width:32px;height:7.5px;background:#37b07f"></div>
<div class="pl" style="top:148.3px;color:#fff;left:693.5px">6438.7</div>
<div class="a" style="left:676.4px;top:138.8px;width:10.6px;height:10.4px;background:#454b58"></div>
<svg width="11" height="11" style="position:absolute;left:676.4px;top:138.8px"><path d="M5.3 2 v7 M1.8 5.5 h7" stroke="#c0c4cc" stroke-width="1.1"/></svg>
<div class="a" style="left:688px;top:138.8px;width:32px;height:10.2px;background:#434a56"></div>
<div class="pl" style="top:139.5px;color:#fff;left:693.5px;font-size:8.6px">6533.8</div>
<div class="a" style="left:688px;top:396.4px;width:32px;height:10.4px;background:#ff9513"></div>
<div class="pl" style="top:397.3px;color:#fff;left:693.5px;font-size:8.6px">3348.6</div>

<!-- time axis -->
<div class="tl" style="left:121.4px">Nov</div>
<div class="tl" style="left:210.6px">Dec</div>
<div class="tl" style="left:302.9px">2019</div>
<div class="tl" style="left:395px">Feb</div>
<div class="tl" style="left:478.6px">Mar</div>
<div class="tl" style="left:571px">Apr</div>
<svg width="720" height="8" style="position:absolute;left:0;top:433px"><g stroke="#8a8d94" stroke-width="1">
<line x1="121.4" y1="0" x2="121.4" y2="3"/><line x1="210.8" y1="0" x2="210.8" y2="3"/><line x1="302.9" y1="0" x2="302.9" y2="3"/><line x1="395.4" y1="0" x2="395.4" y2="3"/><line x1="478.9" y1="0" x2="478.9" y2="3"/><line x1="571.5" y1="0" x2="571.5" y2="3"/></g></svg>
<div class="a" style="left:647.5px;top:433.8px;width:39.5px;height:13.9px;background:#434a56;border-radius:0 0 1.5px 1.5px"></div>
<div class="a" style="left:650.4px;top:436.8px;font-size:7.9px;color:#fff;line-height:9px;letter-spacing:-0.45px">09 May '19</div>
<svg width="16" height="16" style="position:absolute;left:696px;top:435px"><g fill="none" stroke="#333" stroke-width="0.9">
<circle cx="7.8" cy="7.5" r="2.9"/>
<path d="M7.8 2.3 v1.6 M7.8 11.1 v1.6 M2.6 7.5 h1.6 M11.4 7.5 h1.6 M4.1 3.8 l1.1 1.1 M10.4 10.1 l1.1 1.1 M4.1 11.2 l1.1 -1.1 M10.4 4.9 l1.1 -1.1"/></g></svg>

<!-- bottom toolbar -->
<div class="bb" style="left:51.4px">1D</div>
<div class="bb" style="left:70.7px">5D</div>
<div class="bb" style="left:90.5px">1M</div>
<div class="bb" style="left:110px">3M</div>
<div class="bb" style="left:130px">6M</div>
<div class="bb" style="left:152.3px">YTD</div>
<div class="bb" style="left:174.3px">1Y</div>
<div class="bb" style="left:193.6px">5Y</div>
<div class="bb" style="left:212.6px">All</div>
<div class="a" style="left:228.8px;top:455px;width:1px;height:15px;background:#e3e6ec"></div>
<div class="a" style="left:239.5px;top:457.6px;font-size:9.2px;color:#333;line-height:10px;-webkit-text-stroke:0.3px #333">Go to...</div>
<div class="a" style="left:564.4px;top:457.6px;font-size:8.75px;color:#333;line-height:10px;-webkit-text-stroke:0.3px #333">03:31:52 (UTC+3)</div>
<div class="a" style="left:645.7px;top:455px;width:1px;height:15px;background:#e3e6ec"></div>
<div class="a" style="left:655.6px;top:457.2px;font-size:10px;color:#333;line-height:11px;-webkit-text-stroke:0.3px #333">%</div>
<div class="a" style="left:673.8px;top:457.2px;font-size:9.6px;color:#333;line-height:11px;-webkit-text-stroke:0.3px #333">log</div>
<div class="a" style="left:694.5px;top:457.9px;font-size:9.3px;color:#2a9df4;line-height:11px;-webkit-text-stroke:0.25px #2a9df4">auto</div>
</body></html>
